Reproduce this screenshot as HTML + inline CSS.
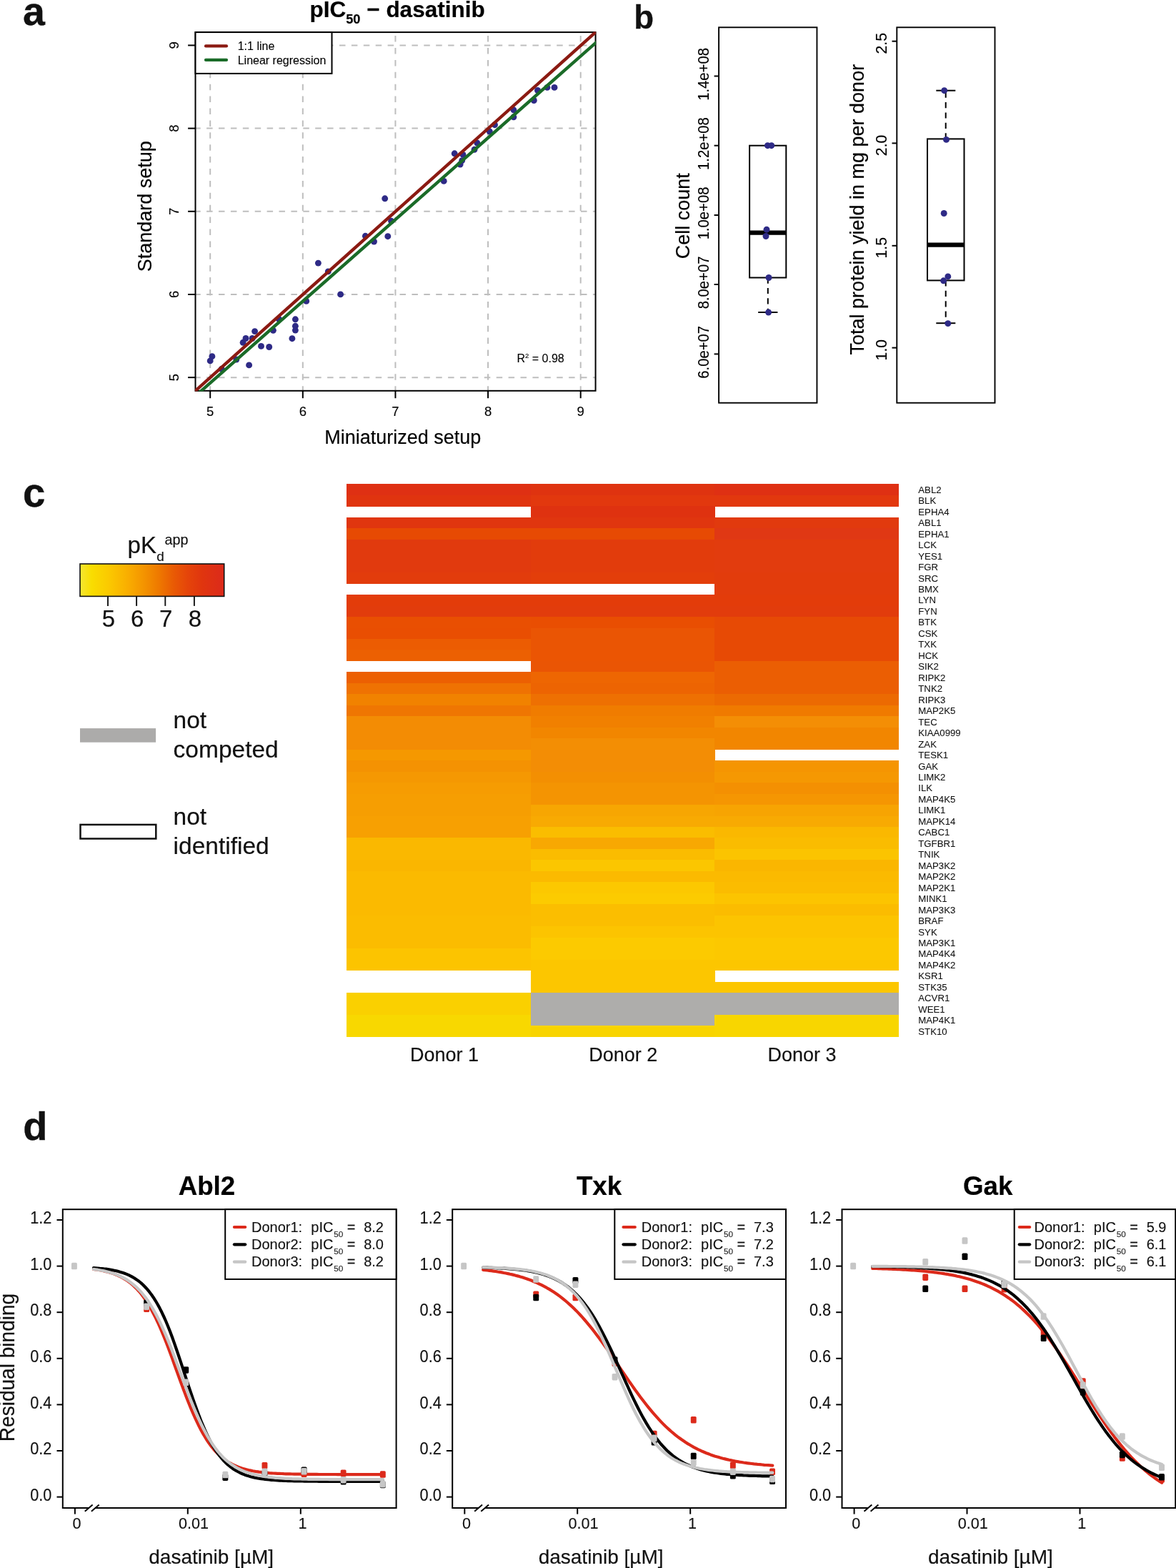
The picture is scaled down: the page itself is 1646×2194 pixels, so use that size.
<!DOCTYPE html>
<html lang="en"><head><meta charset="utf-8"><title>Figure</title>
<style>
html,body{margin:0;padding:0;background:#fff;}
body{width:1646px;height:2194px;overflow:hidden;}
svg{display:block;font-family:'Liberation Sans', sans-serif;}
</style></head><body>
<svg width="1646" height="2194" viewBox="0 0 1646 2194">
<rect width="1646" height="2194" fill="#fff"/>
<text x="32.00" y="35.00" font-size="55.5" text-anchor="start" font-weight="bold" fill="#111" stroke="#111" stroke-width="0.33">a</text>
<text x="887.30" y="39.80" font-size="45.6" text-anchor="start" font-weight="bold" fill="#111" stroke="#111" stroke-width="0.27">b</text>
<text x="31.90" y="709.00" font-size="56.5" text-anchor="start" font-weight="bold" fill="#111" stroke="#111" stroke-width="0.34">c</text>
<text x="32.20" y="1595.00" font-size="56" text-anchor="start" font-weight="bold" fill="#111" stroke="#111" stroke-width="0.34">d</text>
<g id="panel-a">
<line x1="294.20" y1="548.70" x2="294.20" y2="45.10" stroke="#BEBEBE" stroke-width="2" stroke-dasharray="8.5 8.4"/>
<line x1="272.20" y1="528.15" x2="833.55" y2="528.15" stroke="#BEBEBE" stroke-width="2" stroke-dasharray="8.5 8.4"/>
<line x1="423.82" y1="548.70" x2="423.82" y2="45.10" stroke="#BEBEBE" stroke-width="2" stroke-dasharray="8.5 8.4"/>
<line x1="272.20" y1="411.97" x2="833.55" y2="411.97" stroke="#BEBEBE" stroke-width="2" stroke-dasharray="8.5 8.4"/>
<line x1="553.44" y1="548.70" x2="553.44" y2="45.10" stroke="#BEBEBE" stroke-width="2" stroke-dasharray="8.5 8.4"/>
<line x1="272.20" y1="295.79" x2="833.55" y2="295.79" stroke="#BEBEBE" stroke-width="2" stroke-dasharray="8.5 8.4"/>
<line x1="683.06" y1="548.70" x2="683.06" y2="45.10" stroke="#BEBEBE" stroke-width="2" stroke-dasharray="8.5 8.4"/>
<line x1="272.20" y1="179.61" x2="833.55" y2="179.61" stroke="#BEBEBE" stroke-width="2" stroke-dasharray="8.5 8.4"/>
<line x1="812.68" y1="548.70" x2="812.68" y2="45.10" stroke="#BEBEBE" stroke-width="2" stroke-dasharray="8.5 8.4"/>
<line x1="272.20" y1="63.43" x2="833.55" y2="63.43" stroke="#BEBEBE" stroke-width="2" stroke-dasharray="8.5 8.4"/>
<circle cx="294.2" cy="504.9" r="4.45" fill="#2E2A86"/>
<circle cx="296.9" cy="498.7" r="4.45" fill="#2E2A86"/>
<circle cx="310.2" cy="516.3" r="4.45" fill="#2E2A86"/>
<circle cx="330.8" cy="503.0" r="4.45" fill="#2E2A86"/>
<circle cx="348.6" cy="510.9" r="4.45" fill="#2E2A86"/>
<circle cx="340.1" cy="479.3" r="4.45" fill="#2E2A86"/>
<circle cx="344.0" cy="473.5" r="4.45" fill="#2E2A86"/>
<circle cx="353.1" cy="473.5" r="4.45" fill="#2E2A86"/>
<circle cx="356.6" cy="463.6" r="4.45" fill="#2E2A86"/>
<circle cx="365.5" cy="484.4" r="4.45" fill="#2E2A86"/>
<circle cx="376.7" cy="485.5" r="4.45" fill="#2E2A86"/>
<circle cx="382.4" cy="462.3" r="4.45" fill="#2E2A86"/>
<circle cx="390.3" cy="446.4" r="4.45" fill="#2E2A86"/>
<circle cx="408.9" cy="473.7" r="4.45" fill="#2E2A86"/>
<circle cx="413.4" cy="462.1" r="4.45" fill="#2E2A86"/>
<circle cx="413.4" cy="456.3" r="4.45" fill="#2E2A86"/>
<circle cx="413.4" cy="446.8" r="4.45" fill="#2E2A86"/>
<circle cx="428.7" cy="421.4" r="4.45" fill="#2E2A86"/>
<circle cx="445.4" cy="368.1" r="4.45" fill="#2E2A86"/>
<circle cx="459.3" cy="379.9" r="4.45" fill="#2E2A86"/>
<circle cx="476.6" cy="411.9" r="4.45" fill="#2E2A86"/>
<circle cx="511.4" cy="330.3" r="4.45" fill="#2E2A86"/>
<circle cx="523.5" cy="338.0" r="4.45" fill="#2E2A86"/>
<circle cx="542.8" cy="330.7" r="4.45" fill="#2E2A86"/>
<circle cx="538.7" cy="277.8" r="4.45" fill="#2E2A86"/>
<circle cx="547.6" cy="309.3" r="4.45" fill="#2E2A86"/>
<circle cx="621.2" cy="253.4" r="4.45" fill="#2E2A86"/>
<circle cx="636.2" cy="214.8" r="4.45" fill="#2E2A86"/>
<circle cx="648.0" cy="216.4" r="4.45" fill="#2E2A86"/>
<circle cx="646.7" cy="224.6" r="4.45" fill="#2E2A86"/>
<circle cx="644.1" cy="230.0" r="4.45" fill="#2E2A86"/>
<circle cx="664.0" cy="209.3" r="4.45" fill="#2E2A86"/>
<circle cx="667.8" cy="200.0" r="4.45" fill="#2E2A86"/>
<circle cx="685.3" cy="184.0" r="4.45" fill="#2E2A86"/>
<circle cx="692.5" cy="174.7" r="4.45" fill="#2E2A86"/>
<circle cx="718.9" cy="153.8" r="4.45" fill="#2E2A86"/>
<circle cx="718.9" cy="163.8" r="4.45" fill="#2E2A86"/>
<circle cx="747.3" cy="140.5" r="4.45" fill="#2E2A86"/>
<circle cx="752.5" cy="126.5" r="4.45" fill="#2E2A86"/>
<circle cx="765.9" cy="122.4" r="4.45" fill="#2E2A86"/>
<circle cx="776.0" cy="122.4" r="4.45" fill="#2E2A86"/>
<rect x="273.50" y="45.10" width="560.05" height="501.70" fill="none" stroke="#000" stroke-width="2"/>
<clipPath id="clipA"><rect x="272.9" y="44.5" width="561.25" height="502.8999999999999"/></clipPath>
<g clip-path="url(#clipA)">
<line x1="263.50" y1="555.76" x2="843.55" y2="36.14" stroke="#8B1A12" stroke-width="4.4"/>
<line x1="271.80" y1="555.62" x2="843.50" y2="51.38" stroke="#1A6B28" stroke-width="4.4"/>
</g>
<line x1="294.20" y1="546.80" x2="294.20" y2="557.20" stroke="#000" stroke-width="2"/>
<text x="294.20" y="582.00" font-size="18.5" text-anchor="middle" font-weight="normal" fill="#000" stroke="#000" stroke-width="0.11">5</text>
<line x1="273.50" y1="528.15" x2="263.10" y2="528.15" stroke="#000" stroke-width="2"/>
<text x="250.20" y="528.15" font-size="18.5" text-anchor="middle" font-weight="normal" fill="#000" stroke="#000" stroke-width="0.11" transform="rotate(-90 250.20 528.15)">5</text>
<line x1="423.82" y1="546.80" x2="423.82" y2="557.20" stroke="#000" stroke-width="2"/>
<text x="423.82" y="582.00" font-size="18.5" text-anchor="middle" font-weight="normal" fill="#000" stroke="#000" stroke-width="0.11">6</text>
<line x1="273.50" y1="411.97" x2="263.10" y2="411.97" stroke="#000" stroke-width="2"/>
<text x="250.20" y="411.97" font-size="18.5" text-anchor="middle" font-weight="normal" fill="#000" stroke="#000" stroke-width="0.11" transform="rotate(-90 250.20 411.97)">6</text>
<line x1="553.44" y1="546.80" x2="553.44" y2="557.20" stroke="#000" stroke-width="2"/>
<text x="553.44" y="582.00" font-size="18.5" text-anchor="middle" font-weight="normal" fill="#000" stroke="#000" stroke-width="0.11">7</text>
<line x1="273.50" y1="295.79" x2="263.10" y2="295.79" stroke="#000" stroke-width="2"/>
<text x="250.20" y="295.79" font-size="18.5" text-anchor="middle" font-weight="normal" fill="#000" stroke="#000" stroke-width="0.11" transform="rotate(-90 250.20 295.79)">7</text>
<line x1="683.06" y1="546.80" x2="683.06" y2="557.20" stroke="#000" stroke-width="2"/>
<text x="683.06" y="582.00" font-size="18.5" text-anchor="middle" font-weight="normal" fill="#000" stroke="#000" stroke-width="0.11">8</text>
<line x1="273.50" y1="179.61" x2="263.10" y2="179.61" stroke="#000" stroke-width="2"/>
<text x="250.20" y="179.61" font-size="18.5" text-anchor="middle" font-weight="normal" fill="#000" stroke="#000" stroke-width="0.11" transform="rotate(-90 250.20 179.61)">8</text>
<line x1="812.68" y1="546.80" x2="812.68" y2="557.20" stroke="#000" stroke-width="2"/>
<text x="812.68" y="582.00" font-size="18.5" text-anchor="middle" font-weight="normal" fill="#000" stroke="#000" stroke-width="0.11">9</text>
<line x1="273.50" y1="63.43" x2="263.10" y2="63.43" stroke="#000" stroke-width="2"/>
<text x="250.20" y="63.43" font-size="18.5" text-anchor="middle" font-weight="normal" fill="#000" stroke="#000" stroke-width="0.11" transform="rotate(-90 250.20 63.43)">9</text>
<text x="563.80" y="620.70" font-size="27" text-anchor="middle" font-weight="normal" fill="#000" stroke="#000" stroke-width="0.16">Miniaturized setup</text>
<text x="0.00" y="0.00" font-size="27.5" text-anchor="middle" font-weight="normal" fill="#000" stroke="#000" stroke-width="0.17" transform="translate(211.60 288.70) rotate(-90) scale(0.982 1)">Standard setup</text>
<text x="433.5" y="23.5" font-size="31.5" font-weight="bold" fill="#000" stroke="#000" stroke-width="0.2">pIC<tspan font-size="18.2" dy="9.9">50</tspan><tspan dy="-9.9"> − dasatinib</tspan></text>
<rect x="273.50" y="45.10" width="191.00" height="57.80" fill="#fff" stroke="#000" stroke-width="2"/>
<line x1="288.00" y1="64.40" x2="317.00" y2="64.40" stroke="#8B1A12" stroke-width="4.2" stroke-linecap="round"/>
<line x1="288.00" y1="83.90" x2="317.00" y2="83.90" stroke="#1A6B28" stroke-width="4.2" stroke-linecap="round"/>
<text x="332.70" y="70.00" font-size="16" text-anchor="start" font-weight="normal" fill="#000" stroke="#000" stroke-width="0.10">1:1 line</text>
<text x="332.70" y="90.10" font-size="16" text-anchor="start" font-weight="normal" fill="#000" stroke="#000" stroke-width="0.10">Linear regression</text>
<text x="723.5" y="506.5" font-size="16" fill="#000" stroke="#000" stroke-width="0.1">R<tspan font-size="9.5" dy="-6">2</tspan><tspan dy="6"> = 0.98</tspan></text>
</g>
<g id="panel-b">
<rect x="1006.10" y="38.30" width="137.35" height="525.40" fill="none" stroke="#000" stroke-width="1.9"/>
<line x1="1006.10" y1="106.50" x2="999.60" y2="106.50" stroke="#000" stroke-width="2"/>
<text x="991.60" y="103.90" font-size="21.3" text-anchor="middle" font-weight="normal" fill="#000" stroke="#000" stroke-width="0.13" transform="rotate(-90 991.60 103.90)" textLength="73.8" lengthAdjust="spacingAndGlyphs">1.4e+08</text>
<line x1="1006.10" y1="203.70" x2="999.60" y2="203.70" stroke="#000" stroke-width="2"/>
<text x="991.60" y="201.10" font-size="21.3" text-anchor="middle" font-weight="normal" fill="#000" stroke="#000" stroke-width="0.13" transform="rotate(-90 991.60 201.10)" textLength="73.8" lengthAdjust="spacingAndGlyphs">1.2e+08</text>
<line x1="1006.10" y1="301.00" x2="999.60" y2="301.00" stroke="#000" stroke-width="2"/>
<text x="991.60" y="298.40" font-size="21.3" text-anchor="middle" font-weight="normal" fill="#000" stroke="#000" stroke-width="0.13" transform="rotate(-90 991.60 298.40)" textLength="73.8" lengthAdjust="spacingAndGlyphs">1.0e+08</text>
<line x1="1006.10" y1="398.00" x2="999.60" y2="398.00" stroke="#000" stroke-width="2"/>
<text x="991.60" y="395.40" font-size="21.3" text-anchor="middle" font-weight="normal" fill="#000" stroke="#000" stroke-width="0.13" transform="rotate(-90 991.60 395.40)" textLength="73.8" lengthAdjust="spacingAndGlyphs">8.0e+07</text>
<line x1="1006.10" y1="495.40" x2="999.60" y2="495.40" stroke="#000" stroke-width="2"/>
<text x="991.60" y="492.80" font-size="21.3" text-anchor="middle" font-weight="normal" fill="#000" stroke="#000" stroke-width="0.13" transform="rotate(-90 991.60 492.80)" textLength="73.8" lengthAdjust="spacingAndGlyphs">6.0e+07</text>
<text x="965.00" y="302.30" font-size="27" text-anchor="middle" font-weight="normal" fill="#000" stroke="#000" stroke-width="0.16" transform="rotate(-90 965.00 302.30)">Cell count</text>
<line x1="1074.80" y1="388.50" x2="1074.80" y2="437.00" stroke="#000" stroke-width="2" stroke-dasharray="8.2 6.2"/>
<line x1="1061.20" y1="437.00" x2="1088.40" y2="437.00" stroke="#000" stroke-width="2"/>
<rect x="1049.10" y="203.70" width="51.20" height="184.80" fill="#fff" stroke="#000" stroke-width="2"/>
<line x1="1049.10" y1="325.70" x2="1100.30" y2="325.70" stroke="#000" stroke-width="6.3"/>
<circle cx="1074.4" cy="203.7" r="4.45" fill="#2E2A86"/>
<circle cx="1079.8" cy="203.7" r="4.45" fill="#2E2A86"/>
<circle cx="1073.0" cy="321.2" r="4.45" fill="#2E2A86"/>
<circle cx="1072.0" cy="330.5" r="4.45" fill="#2E2A86"/>
<circle cx="1076.0" cy="388.5" r="4.45" fill="#2E2A86"/>
<circle cx="1075.6" cy="437.0" r="4.45" fill="#2E2A86"/>
<rect x="1255.30" y="38.30" width="137.20" height="525.40" fill="none" stroke="#000" stroke-width="1.9"/>
<line x1="1255.30" y1="57.70" x2="1248.50" y2="57.70" stroke="#000" stroke-width="2"/>
<text x="1240.80" y="60.70" font-size="21.3" text-anchor="middle" font-weight="normal" fill="#000" stroke="#000" stroke-width="0.13" transform="rotate(-90 1240.80 60.70)">2.5</text>
<line x1="1255.30" y1="200.40" x2="1248.50" y2="200.40" stroke="#000" stroke-width="2"/>
<text x="1240.80" y="203.40" font-size="21.3" text-anchor="middle" font-weight="normal" fill="#000" stroke="#000" stroke-width="0.13" transform="rotate(-90 1240.80 203.40)">2.0</text>
<line x1="1255.30" y1="343.80" x2="1248.50" y2="343.80" stroke="#000" stroke-width="2"/>
<text x="1240.80" y="346.80" font-size="21.3" text-anchor="middle" font-weight="normal" fill="#000" stroke="#000" stroke-width="0.13" transform="rotate(-90 1240.80 346.80)">1.5</text>
<line x1="1255.30" y1="486.60" x2="1248.50" y2="486.60" stroke="#000" stroke-width="2"/>
<text x="1240.80" y="489.60" font-size="21.3" text-anchor="middle" font-weight="normal" fill="#000" stroke="#000" stroke-width="0.13" transform="rotate(-90 1240.80 489.60)">1.0</text>
<text x="1208.60" y="293.20" font-size="27" text-anchor="middle" font-weight="normal" fill="#000" stroke="#000" stroke-width="0.16" transform="rotate(-90 1208.60 293.20)">Total protein yield in mg per donor</text>
<line x1="1323.70" y1="194.40" x2="1323.70" y2="126.70" stroke="#000" stroke-width="2" stroke-dasharray="8.2 6.2"/>
<line x1="1310.30" y1="126.70" x2="1337.30" y2="126.70" stroke="#000" stroke-width="2"/>
<line x1="1323.70" y1="392.40" x2="1323.70" y2="452.20" stroke="#000" stroke-width="2" stroke-dasharray="8.2 6.2"/>
<line x1="1310.30" y1="452.20" x2="1337.30" y2="452.20" stroke="#000" stroke-width="2"/>
<rect x="1298.00" y="194.40" width="51.50" height="198.00" fill="#fff" stroke="#000" stroke-width="2"/>
<line x1="1298.00" y1="342.60" x2="1349.50" y2="342.60" stroke="#000" stroke-width="6.3"/>
<circle cx="1321.7" cy="126.7" r="4.45" fill="#2E2A86"/>
<circle cx="1324.5" cy="195.4" r="4.45" fill="#2E2A86"/>
<circle cx="1321.2" cy="298.5" r="4.45" fill="#2E2A86"/>
<circle cx="1326.8" cy="386.9" r="4.45" fill="#2E2A86"/>
<circle cx="1320.6" cy="392.8" r="4.45" fill="#2E2A86"/>
<circle cx="1326.8" cy="452.6" r="4.45" fill="#2E2A86"/>
</g>
<g id="panel-c">
<defs><linearGradient id="cb" x1="0" x2="1" y1="0" y2="0">
<stop offset="0.0" stop-color="#F5E633"/>
<stop offset="0.08" stop-color="#F9DD00"/>
<stop offset="0.2" stop-color="#FBC900"/>
<stop offset="0.33" stop-color="#F9AE00"/>
<stop offset="0.45" stop-color="#F39200"/>
<stop offset="0.55" stop-color="#EE7800"/>
<stop offset="0.65" stop-color="#E95A04"/>
<stop offset="0.75" stop-color="#E5440A"/>
<stop offset="0.85" stop-color="#E0350F"/>
<stop offset="1.0" stop-color="#DC2A1B"/>
</linearGradient></defs>
<rect x="112.00" y="789.00" width="201.70" height="45.40" fill="url(#cb)" stroke="#111" stroke-width="1.6"/>
<line x1="151.00" y1="834.30" x2="151.00" y2="847.90" stroke="#111" stroke-width="1.9"/>
<text x="152.00" y="876.50" font-size="33" text-anchor="middle" font-weight="normal" fill="#111" stroke="#111" stroke-width="0.20">5</text>
<line x1="191.10" y1="834.30" x2="191.10" y2="847.90" stroke="#111" stroke-width="1.9"/>
<text x="192.10" y="876.50" font-size="33" text-anchor="middle" font-weight="normal" fill="#111" stroke="#111" stroke-width="0.20">6</text>
<line x1="231.30" y1="834.30" x2="231.30" y2="847.90" stroke="#111" stroke-width="1.9"/>
<text x="232.30" y="876.50" font-size="33" text-anchor="middle" font-weight="normal" fill="#111" stroke="#111" stroke-width="0.20">7</text>
<line x1="271.90" y1="834.30" x2="271.90" y2="847.90" stroke="#111" stroke-width="1.9"/>
<text x="272.90" y="876.50" font-size="33" text-anchor="middle" font-weight="normal" fill="#111" stroke="#111" stroke-width="0.20">8</text>
<text x="178.60" y="774.20" font-size="33" text-anchor="start" font-weight="normal" fill="#111" stroke="#111" stroke-width="0.20">pK</text>
<text x="219.20" y="784.70" font-size="19" text-anchor="start" font-weight="normal" fill="#111" stroke="#111" stroke-width="0.11">d</text>
<text x="230.40" y="762.40" font-size="19.8" text-anchor="start" font-weight="normal" fill="#111" stroke="#111" stroke-width="0.12">app</text>
<rect x="112.00" y="1019.10" width="106.10" height="19.60" fill="#ACABAA" stroke="none" stroke-width="0"/>
<text x="242.60" y="1018.80" font-size="33.5" text-anchor="start" font-weight="normal" fill="#111" stroke="#111" stroke-width="0.20">not</text>
<text x="242.60" y="1060.30" font-size="33.5" text-anchor="start" font-weight="normal" fill="#111" stroke="#111" stroke-width="0.20">competed</text>
<rect x="112.50" y="1153.90" width="105.80" height="19.60" fill="#fff" stroke="#111" stroke-width="2.5"/>
<text x="242.60" y="1153.90" font-size="33.5" text-anchor="start" font-weight="normal" fill="#111" stroke="#111" stroke-width="0.20">not</text>
<text x="242.60" y="1195.00" font-size="33.5" text-anchor="start" font-weight="normal" fill="#111" stroke="#111" stroke-width="0.20">identified</text>
<g shape-rendering="crispEdges">
<rect x="484.90" y="677.45" width="258.10" height="15.77" fill="#DF3013" stroke="none" stroke-width="0"/>
<rect x="742.70" y="677.45" width="257.90" height="15.77" fill="#DF3310" stroke="none" stroke-width="0"/>
<rect x="1000.30" y="677.45" width="258.10" height="15.77" fill="#DF3013" stroke="none" stroke-width="0"/>
<rect x="484.90" y="692.92" width="258.10" height="15.77" fill="#E0340F" stroke="none" stroke-width="0"/>
<rect x="742.70" y="692.92" width="257.90" height="15.77" fill="#E2380E" stroke="none" stroke-width="0"/>
<rect x="1000.30" y="692.92" width="258.10" height="15.77" fill="#E2380E" stroke="none" stroke-width="0"/>
<rect x="742.70" y="708.39" width="257.90" height="15.77" fill="#DF3210" stroke="none" stroke-width="0"/>
<rect x="484.90" y="723.86" width="258.10" height="15.77" fill="#E0360F" stroke="none" stroke-width="0"/>
<rect x="742.70" y="723.86" width="257.90" height="15.77" fill="#E0360F" stroke="none" stroke-width="0"/>
<rect x="1000.30" y="723.86" width="258.10" height="15.77" fill="#E13A0E" stroke="none" stroke-width="0"/>
<rect x="484.90" y="739.33" width="258.10" height="15.77" fill="#E74A03" stroke="none" stroke-width="0"/>
<rect x="742.70" y="739.33" width="257.90" height="15.77" fill="#E74A03" stroke="none" stroke-width="0"/>
<rect x="1000.30" y="739.33" width="258.10" height="15.77" fill="#E03814" stroke="none" stroke-width="0"/>
<rect x="484.90" y="754.80" width="258.10" height="15.77" fill="#E13A0E" stroke="none" stroke-width="0"/>
<rect x="742.70" y="754.80" width="257.90" height="15.77" fill="#E23C0C" stroke="none" stroke-width="0"/>
<rect x="1000.30" y="754.80" width="258.10" height="15.77" fill="#E23C0E" stroke="none" stroke-width="0"/>
<rect x="484.90" y="770.26" width="258.10" height="15.77" fill="#E13A0E" stroke="none" stroke-width="0"/>
<rect x="742.70" y="770.26" width="257.90" height="15.77" fill="#E23C0C" stroke="none" stroke-width="0"/>
<rect x="1000.30" y="770.26" width="258.10" height="15.77" fill="#E23C0E" stroke="none" stroke-width="0"/>
<rect x="484.90" y="785.73" width="258.10" height="15.77" fill="#E13A0E" stroke="none" stroke-width="0"/>
<rect x="742.70" y="785.73" width="257.90" height="15.77" fill="#E23C0C" stroke="none" stroke-width="0"/>
<rect x="1000.30" y="785.73" width="258.10" height="15.77" fill="#E23C0E" stroke="none" stroke-width="0"/>
<rect x="484.90" y="801.20" width="258.10" height="15.77" fill="#E23C0C" stroke="none" stroke-width="0"/>
<rect x="742.70" y="801.20" width="257.90" height="15.77" fill="#E33E0A" stroke="none" stroke-width="0"/>
<rect x="1000.30" y="801.20" width="258.10" height="15.77" fill="#E23C0C" stroke="none" stroke-width="0"/>
<rect x="1000.30" y="816.67" width="258.10" height="15.77" fill="#E23C0C" stroke="none" stroke-width="0"/>
<rect x="484.90" y="832.14" width="258.10" height="15.77" fill="#E33C0A" stroke="none" stroke-width="0"/>
<rect x="742.70" y="832.14" width="257.90" height="15.77" fill="#E33C0A" stroke="none" stroke-width="0"/>
<rect x="1000.30" y="832.14" width="258.10" height="15.77" fill="#E33C0A" stroke="none" stroke-width="0"/>
<rect x="484.90" y="847.61" width="258.10" height="15.77" fill="#E23C0C" stroke="none" stroke-width="0"/>
<rect x="742.70" y="847.61" width="257.90" height="15.77" fill="#E23C0C" stroke="none" stroke-width="0"/>
<rect x="1000.30" y="847.61" width="258.10" height="15.77" fill="#E23C0C" stroke="none" stroke-width="0"/>
<rect x="484.90" y="863.08" width="258.10" height="15.77" fill="#E94F02" stroke="none" stroke-width="0"/>
<rect x="742.70" y="863.08" width="257.90" height="15.77" fill="#E94E02" stroke="none" stroke-width="0"/>
<rect x="1000.30" y="863.08" width="258.10" height="15.77" fill="#E74A05" stroke="none" stroke-width="0"/>
<rect x="484.90" y="878.55" width="258.10" height="15.77" fill="#E94E02" stroke="none" stroke-width="0"/>
<rect x="742.70" y="878.55" width="257.90" height="15.77" fill="#EA5504" stroke="none" stroke-width="0"/>
<rect x="1000.30" y="878.55" width="258.10" height="15.77" fill="#E74A05" stroke="none" stroke-width="0"/>
<rect x="484.90" y="894.02" width="258.10" height="15.77" fill="#EC5C02" stroke="none" stroke-width="0"/>
<rect x="742.70" y="894.02" width="257.90" height="15.77" fill="#EA5504" stroke="none" stroke-width="0"/>
<rect x="1000.30" y="894.02" width="258.10" height="15.77" fill="#E74A05" stroke="none" stroke-width="0"/>
<rect x="484.90" y="909.49" width="258.10" height="15.77" fill="#EC6002" stroke="none" stroke-width="0"/>
<rect x="742.70" y="909.49" width="257.90" height="15.77" fill="#EB5503" stroke="none" stroke-width="0"/>
<rect x="1000.30" y="909.49" width="258.10" height="15.77" fill="#E74A05" stroke="none" stroke-width="0"/>
<rect x="742.70" y="924.95" width="257.90" height="15.77" fill="#EA5504" stroke="none" stroke-width="0"/>
<rect x="1000.30" y="924.95" width="258.10" height="15.77" fill="#EB5E03" stroke="none" stroke-width="0"/>
<rect x="484.90" y="940.42" width="258.10" height="15.77" fill="#EC6002" stroke="none" stroke-width="0"/>
<rect x="742.70" y="940.42" width="257.90" height="15.77" fill="#EE6602" stroke="none" stroke-width="0"/>
<rect x="1000.30" y="940.42" width="258.10" height="15.77" fill="#EB5E03" stroke="none" stroke-width="0"/>
<rect x="484.90" y="955.89" width="258.10" height="15.77" fill="#EF7202" stroke="none" stroke-width="0"/>
<rect x="742.70" y="955.89" width="257.90" height="15.77" fill="#ED6402" stroke="none" stroke-width="0"/>
<rect x="1000.30" y="955.89" width="258.10" height="15.77" fill="#EB5E03" stroke="none" stroke-width="0"/>
<rect x="484.90" y="971.36" width="258.10" height="15.77" fill="#F18200" stroke="none" stroke-width="0"/>
<rect x="742.70" y="971.36" width="257.90" height="15.77" fill="#EE7002" stroke="none" stroke-width="0"/>
<rect x="1000.30" y="971.36" width="258.10" height="15.77" fill="#EC6A02" stroke="none" stroke-width="0"/>
<rect x="484.90" y="986.83" width="258.10" height="15.77" fill="#EF7602" stroke="none" stroke-width="0"/>
<rect x="742.70" y="986.83" width="257.90" height="15.77" fill="#F07C00" stroke="none" stroke-width="0"/>
<rect x="1000.30" y="986.83" width="258.10" height="15.77" fill="#F07A00" stroke="none" stroke-width="0"/>
<rect x="484.90" y="1002.30" width="258.10" height="15.77" fill="#F38C04" stroke="none" stroke-width="0"/>
<rect x="742.70" y="1002.30" width="257.90" height="15.77" fill="#F18000" stroke="none" stroke-width="0"/>
<rect x="1000.30" y="1002.30" width="258.10" height="15.77" fill="#F48E05" stroke="none" stroke-width="0"/>
<rect x="484.90" y="1017.77" width="258.10" height="15.77" fill="#F38C04" stroke="none" stroke-width="0"/>
<rect x="742.70" y="1017.77" width="257.90" height="15.77" fill="#F28600" stroke="none" stroke-width="0"/>
<rect x="1000.30" y="1017.77" width="258.10" height="15.77" fill="#F28600" stroke="none" stroke-width="0"/>
<rect x="484.90" y="1033.24" width="258.10" height="15.77" fill="#F38C04" stroke="none" stroke-width="0"/>
<rect x="742.70" y="1033.24" width="257.90" height="15.77" fill="#F38E04" stroke="none" stroke-width="0"/>
<rect x="1000.30" y="1033.24" width="258.10" height="15.77" fill="#F28600" stroke="none" stroke-width="0"/>
<rect x="484.90" y="1048.71" width="258.10" height="15.77" fill="#F59800" stroke="none" stroke-width="0"/>
<rect x="742.70" y="1048.71" width="257.90" height="15.77" fill="#F38D05" stroke="none" stroke-width="0"/>
<rect x="484.90" y="1064.17" width="258.10" height="15.77" fill="#F49202" stroke="none" stroke-width="0"/>
<rect x="742.70" y="1064.17" width="257.90" height="15.77" fill="#F38D05" stroke="none" stroke-width="0"/>
<rect x="1000.30" y="1064.17" width="258.10" height="15.77" fill="#F59502" stroke="none" stroke-width="0"/>
<rect x="484.90" y="1079.64" width="258.10" height="15.77" fill="#F59802" stroke="none" stroke-width="0"/>
<rect x="742.70" y="1079.64" width="257.90" height="15.77" fill="#F38F02" stroke="none" stroke-width="0"/>
<rect x="1000.30" y="1079.64" width="258.10" height="15.77" fill="#F59802" stroke="none" stroke-width="0"/>
<rect x="484.90" y="1095.11" width="258.10" height="15.77" fill="#F69C02" stroke="none" stroke-width="0"/>
<rect x="742.70" y="1095.11" width="257.90" height="15.77" fill="#F49402" stroke="none" stroke-width="0"/>
<rect x="1000.30" y="1095.11" width="258.10" height="15.77" fill="#F49002" stroke="none" stroke-width="0"/>
<rect x="484.90" y="1110.58" width="258.10" height="15.77" fill="#F69E02" stroke="none" stroke-width="0"/>
<rect x="742.70" y="1110.58" width="257.90" height="15.77" fill="#F49402" stroke="none" stroke-width="0"/>
<rect x="1000.30" y="1110.58" width="258.10" height="15.77" fill="#F59602" stroke="none" stroke-width="0"/>
<rect x="484.90" y="1126.05" width="258.10" height="15.77" fill="#F69E02" stroke="none" stroke-width="0"/>
<rect x="742.70" y="1126.05" width="257.90" height="15.77" fill="#F7A602" stroke="none" stroke-width="0"/>
<rect x="1000.30" y="1126.05" width="258.10" height="15.77" fill="#F7A402" stroke="none" stroke-width="0"/>
<rect x="484.90" y="1141.52" width="258.10" height="15.77" fill="#F7A002" stroke="none" stroke-width="0"/>
<rect x="742.70" y="1141.52" width="257.90" height="15.77" fill="#F8AA02" stroke="none" stroke-width="0"/>
<rect x="1000.30" y="1141.52" width="258.10" height="15.77" fill="#F8AA02" stroke="none" stroke-width="0"/>
<rect x="484.90" y="1156.99" width="258.10" height="15.77" fill="#F7A002" stroke="none" stroke-width="0"/>
<rect x="742.70" y="1156.99" width="257.90" height="15.77" fill="#FABD00" stroke="none" stroke-width="0"/>
<rect x="1000.30" y="1156.99" width="258.10" height="15.77" fill="#FAB800" stroke="none" stroke-width="0"/>
<rect x="484.90" y="1172.46" width="258.10" height="15.77" fill="#FAB800" stroke="none" stroke-width="0"/>
<rect x="742.70" y="1172.46" width="257.90" height="15.77" fill="#F8A802" stroke="none" stroke-width="0"/>
<rect x="1000.30" y="1172.46" width="258.10" height="15.77" fill="#FABC00" stroke="none" stroke-width="0"/>
<rect x="484.90" y="1187.93" width="258.10" height="15.77" fill="#FAB800" stroke="none" stroke-width="0"/>
<rect x="742.70" y="1187.93" width="257.90" height="15.77" fill="#FABC00" stroke="none" stroke-width="0"/>
<rect x="1000.30" y="1187.93" width="258.10" height="15.77" fill="#FBC400" stroke="none" stroke-width="0"/>
<rect x="484.90" y="1203.40" width="258.10" height="15.77" fill="#FAB600" stroke="none" stroke-width="0"/>
<rect x="742.70" y="1203.40" width="257.90" height="15.77" fill="#FBC600" stroke="none" stroke-width="0"/>
<rect x="1000.30" y="1203.40" width="258.10" height="15.77" fill="#FAB600" stroke="none" stroke-width="0"/>
<rect x="484.90" y="1218.87" width="258.10" height="15.77" fill="#FBBA00" stroke="none" stroke-width="0"/>
<rect x="742.70" y="1218.87" width="257.90" height="15.77" fill="#FBBA00" stroke="none" stroke-width="0"/>
<rect x="1000.30" y="1218.87" width="258.10" height="15.77" fill="#FBBA00" stroke="none" stroke-width="0"/>
<rect x="484.90" y="1234.33" width="258.10" height="15.77" fill="#FBBA00" stroke="none" stroke-width="0"/>
<rect x="742.70" y="1234.33" width="257.90" height="15.77" fill="#FCC800" stroke="none" stroke-width="0"/>
<rect x="1000.30" y="1234.33" width="258.10" height="15.77" fill="#FBBC00" stroke="none" stroke-width="0"/>
<rect x="484.90" y="1249.80" width="258.10" height="15.77" fill="#FBBA00" stroke="none" stroke-width="0"/>
<rect x="742.70" y="1249.80" width="257.90" height="15.77" fill="#FCCB00" stroke="none" stroke-width="0"/>
<rect x="1000.30" y="1249.80" width="258.10" height="15.77" fill="#FCC400" stroke="none" stroke-width="0"/>
<rect x="484.90" y="1265.27" width="258.10" height="15.77" fill="#FBBA00" stroke="none" stroke-width="0"/>
<rect x="742.70" y="1265.27" width="257.90" height="15.77" fill="#FBBE00" stroke="none" stroke-width="0"/>
<rect x="1000.30" y="1265.27" width="258.10" height="15.77" fill="#FBBC00" stroke="none" stroke-width="0"/>
<rect x="484.90" y="1280.74" width="258.10" height="15.77" fill="#FBBC00" stroke="none" stroke-width="0"/>
<rect x="742.70" y="1280.74" width="257.90" height="15.77" fill="#FBBE00" stroke="none" stroke-width="0"/>
<rect x="1000.30" y="1280.74" width="258.10" height="15.77" fill="#FCC400" stroke="none" stroke-width="0"/>
<rect x="484.90" y="1296.21" width="258.10" height="15.77" fill="#FBBC00" stroke="none" stroke-width="0"/>
<rect x="742.70" y="1296.21" width="257.90" height="15.77" fill="#FCC400" stroke="none" stroke-width="0"/>
<rect x="1000.30" y="1296.21" width="258.10" height="15.77" fill="#FCC400" stroke="none" stroke-width="0"/>
<rect x="484.90" y="1311.68" width="258.10" height="15.77" fill="#FBBC00" stroke="none" stroke-width="0"/>
<rect x="742.70" y="1311.68" width="257.90" height="15.77" fill="#FCCA00" stroke="none" stroke-width="0"/>
<rect x="1000.30" y="1311.68" width="258.10" height="15.77" fill="#FCC800" stroke="none" stroke-width="0"/>
<rect x="484.90" y="1327.15" width="258.10" height="15.77" fill="#FCC400" stroke="none" stroke-width="0"/>
<rect x="742.70" y="1327.15" width="257.90" height="15.77" fill="#FCCA00" stroke="none" stroke-width="0"/>
<rect x="1000.30" y="1327.15" width="258.10" height="15.77" fill="#FCC800" stroke="none" stroke-width="0"/>
<rect x="484.90" y="1342.62" width="258.10" height="15.77" fill="#FCC400" stroke="none" stroke-width="0"/>
<rect x="742.70" y="1342.62" width="257.90" height="15.77" fill="#FCC600" stroke="none" stroke-width="0"/>
<rect x="1000.30" y="1342.62" width="258.10" height="15.77" fill="#FCC600" stroke="none" stroke-width="0"/>
<rect x="742.70" y="1358.09" width="257.90" height="15.77" fill="#FCC600" stroke="none" stroke-width="0"/>
<rect x="742.70" y="1373.56" width="257.90" height="15.77" fill="#FCC600" stroke="none" stroke-width="0"/>
<rect x="1000.30" y="1373.56" width="258.10" height="15.77" fill="#FCC600" stroke="none" stroke-width="0"/>
<rect x="484.90" y="1389.02" width="258.10" height="15.77" fill="#FAD000" stroke="none" stroke-width="0"/>
<rect x="742.70" y="1389.02" width="257.90" height="15.77" fill="#AEADAB" stroke="none" stroke-width="0"/>
<rect x="1000.30" y="1389.02" width="258.10" height="15.77" fill="#AEADAB" stroke="none" stroke-width="0"/>
<rect x="484.90" y="1404.49" width="258.10" height="15.77" fill="#FAD000" stroke="none" stroke-width="0"/>
<rect x="742.70" y="1404.49" width="257.90" height="15.77" fill="#AEADAB" stroke="none" stroke-width="0"/>
<rect x="1000.30" y="1404.49" width="258.10" height="15.77" fill="#AEADAB" stroke="none" stroke-width="0"/>
<rect x="484.90" y="1419.96" width="258.10" height="15.77" fill="#F8D800" stroke="none" stroke-width="0"/>
<rect x="742.70" y="1419.96" width="257.90" height="15.77" fill="#AEADAB" stroke="none" stroke-width="0"/>
<rect x="1000.30" y="1419.96" width="258.10" height="15.77" fill="#F8D600" stroke="none" stroke-width="0"/>
<rect x="484.90" y="1435.43" width="258.10" height="15.77" fill="#F8D800" stroke="none" stroke-width="0"/>
<rect x="742.70" y="1435.43" width="257.90" height="15.77" fill="#F8D400" stroke="none" stroke-width="0"/>
<rect x="1000.30" y="1435.43" width="258.10" height="15.77" fill="#F8D600" stroke="none" stroke-width="0"/>
</g>
<text x="1285.30" y="689.78" font-size="13.2" text-anchor="start" font-weight="normal" fill="#111" stroke="#111" stroke-width="0.08">ABL2</text>
<text x="1285.30" y="705.25" font-size="13.2" text-anchor="start" font-weight="normal" fill="#111" stroke="#111" stroke-width="0.08">BLK</text>
<text x="1285.30" y="720.72" font-size="13.2" text-anchor="start" font-weight="normal" fill="#111" stroke="#111" stroke-width="0.08">EPHA4</text>
<text x="1285.30" y="736.19" font-size="13.2" text-anchor="start" font-weight="normal" fill="#111" stroke="#111" stroke-width="0.08">ABL1</text>
<text x="1285.30" y="751.66" font-size="13.2" text-anchor="start" font-weight="normal" fill="#111" stroke="#111" stroke-width="0.08">EPHA1</text>
<text x="1285.30" y="767.13" font-size="13.2" text-anchor="start" font-weight="normal" fill="#111" stroke="#111" stroke-width="0.08">LCK</text>
<text x="1285.30" y="782.60" font-size="13.2" text-anchor="start" font-weight="normal" fill="#111" stroke="#111" stroke-width="0.08">YES1</text>
<text x="1285.30" y="798.07" font-size="13.2" text-anchor="start" font-weight="normal" fill="#111" stroke="#111" stroke-width="0.08">FGR</text>
<text x="1285.30" y="813.54" font-size="13.2" text-anchor="start" font-weight="normal" fill="#111" stroke="#111" stroke-width="0.08">SRC</text>
<text x="1285.30" y="829.01" font-size="13.2" text-anchor="start" font-weight="normal" fill="#111" stroke="#111" stroke-width="0.08">BMX</text>
<text x="1285.30" y="844.47" font-size="13.2" text-anchor="start" font-weight="normal" fill="#111" stroke="#111" stroke-width="0.08">LYN</text>
<text x="1285.30" y="859.94" font-size="13.2" text-anchor="start" font-weight="normal" fill="#111" stroke="#111" stroke-width="0.08">FYN</text>
<text x="1285.30" y="875.41" font-size="13.2" text-anchor="start" font-weight="normal" fill="#111" stroke="#111" stroke-width="0.08">BTK</text>
<text x="1285.30" y="890.88" font-size="13.2" text-anchor="start" font-weight="normal" fill="#111" stroke="#111" stroke-width="0.08">CSK</text>
<text x="1285.30" y="906.35" font-size="13.2" text-anchor="start" font-weight="normal" fill="#111" stroke="#111" stroke-width="0.08">TXK</text>
<text x="1285.30" y="921.82" font-size="13.2" text-anchor="start" font-weight="normal" fill="#111" stroke="#111" stroke-width="0.08">HCK</text>
<text x="1285.30" y="937.29" font-size="13.2" text-anchor="start" font-weight="normal" fill="#111" stroke="#111" stroke-width="0.08">SIK2</text>
<text x="1285.30" y="952.76" font-size="13.2" text-anchor="start" font-weight="normal" fill="#111" stroke="#111" stroke-width="0.08">RIPK2</text>
<text x="1285.30" y="968.23" font-size="13.2" text-anchor="start" font-weight="normal" fill="#111" stroke="#111" stroke-width="0.08">TNK2</text>
<text x="1285.30" y="983.70" font-size="13.2" text-anchor="start" font-weight="normal" fill="#111" stroke="#111" stroke-width="0.08">RIPK3</text>
<text x="1285.30" y="999.16" font-size="13.2" text-anchor="start" font-weight="normal" fill="#111" stroke="#111" stroke-width="0.08">MAP2K5</text>
<text x="1285.30" y="1014.63" font-size="13.2" text-anchor="start" font-weight="normal" fill="#111" stroke="#111" stroke-width="0.08">TEC</text>
<text x="1285.30" y="1030.10" font-size="13.2" text-anchor="start" font-weight="normal" fill="#111" stroke="#111" stroke-width="0.08">KIAA0999</text>
<text x="1285.30" y="1045.57" font-size="13.2" text-anchor="start" font-weight="normal" fill="#111" stroke="#111" stroke-width="0.08">ZAK</text>
<text x="1285.30" y="1061.04" font-size="13.2" text-anchor="start" font-weight="normal" fill="#111" stroke="#111" stroke-width="0.08">TESK1</text>
<text x="1285.30" y="1076.51" font-size="13.2" text-anchor="start" font-weight="normal" fill="#111" stroke="#111" stroke-width="0.08">GAK</text>
<text x="1285.30" y="1091.98" font-size="13.2" text-anchor="start" font-weight="normal" fill="#111" stroke="#111" stroke-width="0.08">LIMK2</text>
<text x="1285.30" y="1107.45" font-size="13.2" text-anchor="start" font-weight="normal" fill="#111" stroke="#111" stroke-width="0.08">ILK</text>
<text x="1285.30" y="1122.92" font-size="13.2" text-anchor="start" font-weight="normal" fill="#111" stroke="#111" stroke-width="0.08">MAP4K5</text>
<text x="1285.30" y="1138.39" font-size="13.2" text-anchor="start" font-weight="normal" fill="#111" stroke="#111" stroke-width="0.08">LIMK1</text>
<text x="1285.30" y="1153.85" font-size="13.2" text-anchor="start" font-weight="normal" fill="#111" stroke="#111" stroke-width="0.08">MAPK14</text>
<text x="1285.30" y="1169.32" font-size="13.2" text-anchor="start" font-weight="normal" fill="#111" stroke="#111" stroke-width="0.08">CABC1</text>
<text x="1285.30" y="1184.79" font-size="13.2" text-anchor="start" font-weight="normal" fill="#111" stroke="#111" stroke-width="0.08">TGFBR1</text>
<text x="1285.30" y="1200.26" font-size="13.2" text-anchor="start" font-weight="normal" fill="#111" stroke="#111" stroke-width="0.08">TNIK</text>
<text x="1285.30" y="1215.73" font-size="13.2" text-anchor="start" font-weight="normal" fill="#111" stroke="#111" stroke-width="0.08">MAP3K2</text>
<text x="1285.30" y="1231.20" font-size="13.2" text-anchor="start" font-weight="normal" fill="#111" stroke="#111" stroke-width="0.08">MAP2K2</text>
<text x="1285.30" y="1246.67" font-size="13.2" text-anchor="start" font-weight="normal" fill="#111" stroke="#111" stroke-width="0.08">MAP2K1</text>
<text x="1285.30" y="1262.14" font-size="13.2" text-anchor="start" font-weight="normal" fill="#111" stroke="#111" stroke-width="0.08">MINK1</text>
<text x="1285.30" y="1277.61" font-size="13.2" text-anchor="start" font-weight="normal" fill="#111" stroke="#111" stroke-width="0.08">MAP3K3</text>
<text x="1285.30" y="1293.08" font-size="13.2" text-anchor="start" font-weight="normal" fill="#111" stroke="#111" stroke-width="0.08">BRAF</text>
<text x="1285.30" y="1308.54" font-size="13.2" text-anchor="start" font-weight="normal" fill="#111" stroke="#111" stroke-width="0.08">SYK</text>
<text x="1285.30" y="1324.01" font-size="13.2" text-anchor="start" font-weight="normal" fill="#111" stroke="#111" stroke-width="0.08">MAP3K1</text>
<text x="1285.30" y="1339.48" font-size="13.2" text-anchor="start" font-weight="normal" fill="#111" stroke="#111" stroke-width="0.08">MAP4K4</text>
<text x="1285.30" y="1354.95" font-size="13.2" text-anchor="start" font-weight="normal" fill="#111" stroke="#111" stroke-width="0.08">MAP4K2</text>
<text x="1285.30" y="1370.42" font-size="13.2" text-anchor="start" font-weight="normal" fill="#111" stroke="#111" stroke-width="0.08">KSR1</text>
<text x="1285.30" y="1385.89" font-size="13.2" text-anchor="start" font-weight="normal" fill="#111" stroke="#111" stroke-width="0.08">STK35</text>
<text x="1285.30" y="1401.36" font-size="13.2" text-anchor="start" font-weight="normal" fill="#111" stroke="#111" stroke-width="0.08">ACVR1</text>
<text x="1285.30" y="1416.83" font-size="13.2" text-anchor="start" font-weight="normal" fill="#111" stroke="#111" stroke-width="0.08">WEE1</text>
<text x="1285.30" y="1432.30" font-size="13.2" text-anchor="start" font-weight="normal" fill="#111" stroke="#111" stroke-width="0.08">MAP4K1</text>
<text x="1285.30" y="1447.77" font-size="13.2" text-anchor="start" font-weight="normal" fill="#111" stroke="#111" stroke-width="0.08">STK10</text>
<text x="573.90" y="1484.70" font-size="27" text-anchor="start" font-weight="normal" fill="#111" stroke="#111" stroke-width="0.16">Donor 1</text>
<text x="824.20" y="1484.70" font-size="27" text-anchor="start" font-weight="normal" fill="#111" stroke="#111" stroke-width="0.16">Donor 2</text>
<text x="1074.50" y="1484.70" font-size="27" text-anchor="start" font-weight="normal" fill="#111" stroke="#111" stroke-width="0.16">Donor 3</text>
</g>
<g id="panel-d">
<rect x="201.2" y="1826.6" width="7.9" height="9.5" rx="1.6" ry="1.6" fill="#DC2A1B"/>
<rect x="256.3" y="1931.6" width="7.9" height="9.5" rx="1.6" ry="1.6" fill="#DC2A1B"/>
<rect x="366.5" y="2045.9" width="7.9" height="9.5" rx="1.6" ry="1.6" fill="#DC2A1B"/>
<rect x="421.6" y="2057.5" width="7.9" height="9.5" rx="1.6" ry="1.6" fill="#DC2A1B"/>
<rect x="476.7" y="2056.5" width="7.9" height="9.5" rx="1.6" ry="1.6" fill="#DC2A1B"/>
<rect x="531.9" y="2058.3" width="7.9" height="9.5" rx="1.6" ry="1.6" fill="#DC2A1B"/>
<polyline points="131.0,1776.0 133.9,1776.3 136.8,1776.8 139.7,1777.3 142.6,1777.8 145.5,1778.4 148.4,1779.1 151.3,1779.8 154.1,1780.7 157.0,1781.6 159.9,1782.6 162.8,1783.7 165.7,1785.0 168.6,1786.4 171.5,1787.9 174.4,1789.6 177.3,1791.4 180.2,1793.5 183.1,1795.7 186.0,1798.2 188.9,1800.9 191.8,1803.8 194.7,1807.0 197.6,1810.5 200.4,1814.3 203.3,1818.4 206.2,1822.9 209.1,1827.6 212.0,1832.7 214.9,1838.2 217.8,1843.9 220.7,1850.0 223.6,1856.5 226.5,1863.2 229.4,1870.2 232.3,1877.5 235.2,1885.0 238.1,1892.7 241.0,1900.6 243.8,1908.5 246.7,1916.5 249.6,1924.5 252.5,1932.5 255.4,1940.4 258.3,1948.1 261.2,1955.7 264.1,1963.0 267.0,1970.2 269.9,1977.0 272.8,1983.5 275.7,1989.7 278.6,1995.6 281.5,2001.2 284.4,2006.4 287.3,2011.2 290.1,2015.8 293.0,2020.0 295.9,2023.9 298.8,2027.5 301.7,2030.8 304.6,2033.8 307.5,2036.6 310.4,2039.1 313.3,2041.5 316.2,2043.6 319.1,2045.5 322.0,2047.2 324.9,2048.8 327.8,2050.2 330.7,2051.5 333.6,2052.7 336.4,2053.7 339.3,2054.7 342.2,2055.5 345.1,2056.3 348.0,2057.0 350.9,2057.6 353.8,2058.2 356.7,2058.7 359.6,2059.2 362.5,2059.6 365.4,2059.9 368.3,2060.3 371.2,2060.6 374.1,2060.8 377.0,2061.1 379.8,2061.3 382.7,2061.5 385.6,2061.6 388.5,2061.8 391.4,2061.9 394.3,2062.0 397.2,2062.2 400.1,2062.3 403.0,2062.3 405.9,2062.4 408.8,2062.5 411.7,2062.6 414.6,2062.6 417.5,2062.7 420.4,2062.7 423.3,2062.8 426.1,2062.8 429.0,2062.8 431.9,2062.9 434.8,2062.9 437.7,2062.9 440.6,2062.9 443.5,2062.9 446.4,2063.0 449.3,2063.0 452.2,2063.0 455.1,2063.0 458.0,2063.0 460.9,2063.0 463.8,2063.0 466.7,2063.0 469.5,2063.0 472.4,2063.1 475.3,2063.1 478.2,2063.1 481.1,2063.1 484.0,2063.1 486.9,2063.1 489.8,2063.1 492.7,2063.1 495.6,2063.1 498.5,2063.1 501.4,2063.1 504.3,2063.1 507.2,2063.1 510.1,2063.1 513.0,2063.1 515.8,2063.1 518.7,2063.1 521.6,2063.1 524.5,2063.1 527.4,2063.1 530.3,2063.1 533.2,2063.1 536.1,2063.1" fill="none" stroke="#DC2A1B" stroke-width="4.2" stroke-linecap="round" stroke-linejoin="round"/>
<rect x="201.2" y="1818.5" width="7.9" height="9.5" rx="1.6" ry="1.6" fill="#000"/>
<rect x="256.3" y="1912.2" width="7.9" height="9.5" rx="1.6" ry="1.6" fill="#000"/>
<rect x="311.4" y="2062.4" width="7.9" height="9.5" rx="1.6" ry="1.6" fill="#000"/>
<rect x="366.5" y="2057.5" width="7.9" height="9.5" rx="1.6" ry="1.6" fill="#000"/>
<rect x="421.6" y="2052.5" width="7.9" height="9.5" rx="1.6" ry="1.6" fill="#000"/>
<rect x="476.7" y="2068.0" width="7.9" height="9.5" rx="1.6" ry="1.6" fill="#000"/>
<rect x="531.9" y="2072.7" width="7.9" height="9.5" rx="1.6" ry="1.6" fill="#000"/>
<polyline points="131.0,1774.1 133.9,1774.3 136.8,1774.5 139.7,1774.8 142.6,1775.0 145.5,1775.4 148.4,1775.7 151.3,1776.1 154.1,1776.6 157.0,1777.1 159.9,1777.7 162.8,1778.3 165.7,1779.1 168.6,1779.9 171.5,1780.8 174.4,1781.8 177.3,1782.9 180.2,1784.2 183.1,1785.6 186.0,1787.2 188.9,1788.9 191.8,1790.9 194.7,1793.0 197.6,1795.4 200.4,1798.0 203.3,1801.0 206.2,1804.2 209.1,1807.7 212.0,1811.5 214.9,1815.7 217.8,1820.3 220.7,1825.2 223.6,1830.6 226.5,1836.3 229.4,1842.5 232.3,1849.0 235.2,1856.0 238.1,1863.3 241.0,1871.0 243.8,1878.9 246.7,1887.2 249.6,1895.7 252.5,1904.4 255.4,1913.2 258.3,1922.1 261.2,1930.9 264.1,1939.8 267.0,1948.5 269.9,1957.0 272.8,1965.3 275.7,1973.3 278.6,1981.0 281.5,1988.4 284.4,1995.4 287.3,2002.0 290.1,2008.2 293.0,2014.0 295.9,2019.4 298.8,2024.4 301.7,2029.0 304.6,2033.3 307.5,2037.2 310.4,2040.7 313.3,2044.0 316.2,2046.9 319.1,2049.6 322.0,2052.0 324.9,2054.2 327.8,2056.2 330.7,2057.9 333.6,2059.5 336.4,2061.0 339.3,2062.2 342.2,2063.4 345.1,2064.4 348.0,2065.3 350.9,2066.2 353.8,2066.9 356.7,2067.6 359.6,2068.1 362.5,2068.7 365.4,2069.1 368.3,2069.5 371.2,2069.9 374.1,2070.2 377.0,2070.5 379.8,2070.8 382.7,2071.0 385.6,2071.2 388.5,2071.4 391.4,2071.6 394.3,2071.7 397.2,2071.9 400.1,2072.0 403.0,2072.1 405.9,2072.2 408.8,2072.2 411.7,2072.3 414.6,2072.4 417.5,2072.4 420.4,2072.5 423.3,2072.5 426.1,2072.6 429.0,2072.6 431.9,2072.6 434.8,2072.7 437.7,2072.7 440.6,2072.7 443.5,2072.7 446.4,2072.8 449.3,2072.8 452.2,2072.8 455.1,2072.8 458.0,2072.8 460.9,2072.8 463.8,2072.8 466.7,2072.8 469.5,2072.8 472.4,2072.8 475.3,2072.9 478.2,2072.9 481.1,2072.9 484.0,2072.9 486.9,2072.9 489.8,2072.9 492.7,2072.9 495.6,2072.9 498.5,2072.9 501.4,2072.9 504.3,2072.9 507.2,2072.9 510.1,2072.9 513.0,2072.9 515.8,2072.9 518.7,2072.9 521.6,2072.9 524.5,2072.9 527.4,2072.9 530.3,2072.9 533.2,2072.9 536.1,2072.9" fill="none" stroke="#000" stroke-width="4.2" stroke-linecap="round" stroke-linejoin="round"/>
<rect x="100.0" y="1766.8" width="7.9" height="9.5" rx="1.6" ry="1.6" fill="#C6C6C6"/>
<rect x="201.2" y="1823.4" width="7.9" height="9.5" rx="1.6" ry="1.6" fill="#C6C6C6"/>
<rect x="256.3" y="1929.6" width="7.9" height="9.5" rx="1.6" ry="1.6" fill="#C6C6C6"/>
<rect x="311.4" y="2058.8" width="7.9" height="9.5" rx="1.6" ry="1.6" fill="#C6C6C6"/>
<rect x="366.5" y="2054.6" width="7.9" height="9.5" rx="1.6" ry="1.6" fill="#C6C6C6"/>
<rect x="421.6" y="2054.0" width="7.9" height="9.5" rx="1.6" ry="1.6" fill="#C6C6C6"/>
<rect x="476.7" y="2065.9" width="7.9" height="9.5" rx="1.6" ry="1.6" fill="#C6C6C6"/>
<rect x="531.9" y="2071.9" width="7.9" height="9.5" rx="1.6" ry="1.6" fill="#C6C6C6"/>
<polyline points="131.0,1775.9 133.9,1776.3 136.8,1776.7 139.7,1777.2 142.6,1777.7 145.5,1778.3 148.4,1779.0 151.3,1779.7 154.1,1780.5 157.0,1781.4 159.9,1782.3 162.8,1783.4 165.7,1784.6 168.6,1785.9 171.5,1787.3 174.4,1788.9 177.3,1790.6 180.2,1792.5 183.1,1794.6 186.0,1796.8 188.9,1799.3 191.8,1802.0 194.7,1804.9 197.6,1808.0 200.4,1811.5 203.3,1815.1 206.2,1819.1 209.1,1823.4 212.0,1828.0 214.9,1832.9 217.8,1838.1 220.7,1843.6 223.6,1849.4 226.5,1855.6 229.4,1862.0 232.3,1868.7 235.2,1875.6 238.1,1882.7 241.0,1890.1 243.8,1897.6 246.7,1905.3 249.6,1913.0 252.5,1920.8 255.4,1928.6 258.3,1936.3 261.2,1944.0 264.1,1951.5 267.0,1958.9 269.9,1966.1 272.8,1973.0 275.7,1979.7 278.6,1986.2 281.5,1992.3 284.4,1998.2 287.3,2003.8 290.1,2009.0 293.0,2013.9 295.9,2018.5 298.8,2022.8 301.7,2026.9 304.6,2030.6 307.5,2034.0 310.4,2037.2 313.3,2040.2 316.2,2042.9 319.1,2045.4 322.0,2047.7 324.9,2049.7 327.8,2051.6 330.7,2053.4 333.6,2055.0 336.4,2056.4 339.3,2057.7 342.2,2058.9 345.1,2060.0 348.0,2061.0 350.9,2061.9 353.8,2062.7 356.7,2063.4 359.6,2064.1 362.5,2064.7 365.4,2065.2 368.3,2065.7 371.2,2066.1 374.1,2066.5 377.0,2066.9 379.8,2067.2 382.7,2067.5 385.6,2067.8 388.5,2068.0 391.4,2068.2 394.3,2068.4 397.2,2068.6 400.1,2068.8 403.0,2068.9 405.9,2069.0 408.8,2069.2 411.7,2069.3 414.6,2069.4 417.5,2069.4 420.4,2069.5 423.3,2069.6 426.1,2069.6 429.0,2069.7 431.9,2069.8 434.8,2069.8 437.7,2069.8 440.6,2069.9 443.5,2069.9 446.4,2069.9 449.3,2070.0 452.2,2070.0 455.1,2070.0 458.0,2070.0 460.9,2070.1 463.8,2070.1 466.7,2070.1 469.5,2070.1 472.4,2070.1 475.3,2070.1 478.2,2070.1 481.1,2070.1 484.0,2070.1 486.9,2070.2 489.8,2070.2 492.7,2070.2 495.6,2070.2 498.5,2070.2 501.4,2070.2 504.3,2070.2 507.2,2070.2 510.1,2070.2 513.0,2070.2 515.8,2070.2 518.7,2070.2 521.6,2070.2 524.5,2070.2 527.4,2070.2 530.3,2070.2 533.2,2070.2 536.1,2070.2" fill="none" stroke="#C6C6C6" stroke-width="4.2" stroke-linecap="round" stroke-linejoin="round"/>
<rect x="87.80" y="1692.20" width="466.80" height="417.80" fill="none" stroke="#000" stroke-width="2"/>
<line x1="87.80" y1="2094.60" x2="79.50" y2="2094.60" stroke="#000" stroke-width="2"/>
<text x="0.00" y="0.00" font-size="23.0" text-anchor="end" font-weight="normal" fill="#111" stroke="#111" stroke-width="0.14" transform="translate(72.40 2099.70) scale(0.945 1)">0.0</text>
<line x1="87.80" y1="2030.00" x2="79.50" y2="2030.00" stroke="#000" stroke-width="2"/>
<text x="0.00" y="0.00" font-size="23.0" text-anchor="end" font-weight="normal" fill="#111" stroke="#111" stroke-width="0.14" transform="translate(72.40 2035.10) scale(0.945 1)">0.2</text>
<line x1="87.80" y1="1965.40" x2="79.50" y2="1965.40" stroke="#000" stroke-width="2"/>
<text x="0.00" y="0.00" font-size="23.0" text-anchor="end" font-weight="normal" fill="#111" stroke="#111" stroke-width="0.14" transform="translate(72.40 1970.50) scale(0.945 1)">0.4</text>
<line x1="87.80" y1="1900.80" x2="79.50" y2="1900.80" stroke="#000" stroke-width="2"/>
<text x="0.00" y="0.00" font-size="23.0" text-anchor="end" font-weight="normal" fill="#111" stroke="#111" stroke-width="0.14" transform="translate(72.40 1905.90) scale(0.945 1)">0.6</text>
<line x1="87.80" y1="1836.20" x2="79.50" y2="1836.20" stroke="#000" stroke-width="2"/>
<text x="0.00" y="0.00" font-size="23.0" text-anchor="end" font-weight="normal" fill="#111" stroke="#111" stroke-width="0.14" transform="translate(72.40 1841.30) scale(0.945 1)">0.8</text>
<line x1="87.80" y1="1771.60" x2="79.50" y2="1771.60" stroke="#000" stroke-width="2"/>
<text x="0.00" y="0.00" font-size="23.0" text-anchor="end" font-weight="normal" fill="#111" stroke="#111" stroke-width="0.14" transform="translate(72.40 1776.70) scale(0.945 1)">1.0</text>
<line x1="87.80" y1="1707.00" x2="79.50" y2="1707.00" stroke="#000" stroke-width="2"/>
<text x="0.00" y="0.00" font-size="23.0" text-anchor="end" font-weight="normal" fill="#111" stroke="#111" stroke-width="0.14" transform="translate(72.40 1712.10) scale(0.945 1)">1.2</text>
<line x1="104.90" y1="2110.00" x2="104.90" y2="2118.60" stroke="#000" stroke-width="2"/>
<text x="107.50" y="2139.20" font-size="21.6" text-anchor="middle" font-weight="normal" fill="#111" stroke="#111" stroke-width="0.13">0</text>
<line x1="262.80" y1="2110.00" x2="262.80" y2="2118.60" stroke="#000" stroke-width="2"/>
<text x="271.00" y="2139.20" font-size="21.6" text-anchor="middle" font-weight="normal" fill="#111" stroke="#111" stroke-width="0.13">0.01</text>
<line x1="420.80" y1="2110.00" x2="420.80" y2="2118.60" stroke="#000" stroke-width="2"/>
<text x="423.50" y="2139.20" font-size="21.6" text-anchor="middle" font-weight="normal" fill="#111" stroke="#111" stroke-width="0.13">1</text>
<polygon points="118.8,2114.8 129.6,2105.6 138.7,2105.6 127.9,2114.8" fill="#fff"/>
<line x1="118.80" y1="2114.80" x2="129.60" y2="2105.60" stroke="#000" stroke-width="2.0"/>
<line x1="127.90" y1="2114.80" x2="138.70" y2="2105.60" stroke="#000" stroke-width="2.0"/>
<text x="295.70" y="2187.90" font-size="28.0" text-anchor="middle" font-weight="normal" fill="#111" stroke="#111" stroke-width="0.17">dasatinib [µM]</text>
<text x="289.40" y="1672.10" font-size="36.7" text-anchor="middle" font-weight="bold" fill="#000" stroke="#000" stroke-width="0.22">Abl2</text>
<rect x="315.20" y="1692.20" width="239.40" height="97.70" fill="#fff" stroke="#000" stroke-width="2"/>
<line x1="327.90" y1="1717.00" x2="343.20" y2="1717.00" stroke="#DC2A1B" stroke-width="4.2" stroke-linecap="round"/>
<text x="352.00" y="1723.70" font-size="20" text-anchor="start" font-weight="normal" fill="#111" stroke="#111" stroke-width="0.12">Donor1:</text>
<text x="435.30" y="1723.70" font-size="20" text-anchor="start" font-weight="normal" fill="#111" stroke="#111" stroke-width="0.12">pIC</text>
<text x="467.20" y="1730.60" font-size="11.8" text-anchor="start" font-weight="normal" fill="#111" stroke="#111" stroke-width="0.07">50</text>
<text x="485.70" y="1723.70" font-size="20" text-anchor="start" font-weight="normal" fill="#111" stroke="#111" stroke-width="0.12">=</text>
<text x="509.20" y="1723.70" font-size="20" text-anchor="start" font-weight="normal" fill="#111" stroke="#111" stroke-width="0.12">8.2</text>
<line x1="327.90" y1="1741.35" x2="343.20" y2="1741.35" stroke="#000" stroke-width="4.2" stroke-linecap="round"/>
<text x="352.00" y="1748.05" font-size="20" text-anchor="start" font-weight="normal" fill="#111" stroke="#111" stroke-width="0.12">Donor2:</text>
<text x="435.30" y="1748.05" font-size="20" text-anchor="start" font-weight="normal" fill="#111" stroke="#111" stroke-width="0.12">pIC</text>
<text x="467.20" y="1754.95" font-size="11.8" text-anchor="start" font-weight="normal" fill="#111" stroke="#111" stroke-width="0.07">50</text>
<text x="485.70" y="1748.05" font-size="20" text-anchor="start" font-weight="normal" fill="#111" stroke="#111" stroke-width="0.12">=</text>
<text x="509.20" y="1748.05" font-size="20" text-anchor="start" font-weight="normal" fill="#111" stroke="#111" stroke-width="0.12">8.0</text>
<line x1="327.90" y1="1765.70" x2="343.20" y2="1765.70" stroke="#C6C6C6" stroke-width="4.2" stroke-linecap="round"/>
<text x="352.00" y="1772.40" font-size="20" text-anchor="start" font-weight="normal" fill="#111" stroke="#111" stroke-width="0.12">Donor3:</text>
<text x="435.30" y="1772.40" font-size="20" text-anchor="start" font-weight="normal" fill="#111" stroke="#111" stroke-width="0.12">pIC</text>
<text x="467.20" y="1779.30" font-size="11.8" text-anchor="start" font-weight="normal" fill="#111" stroke="#111" stroke-width="0.07">50</text>
<text x="485.70" y="1772.40" font-size="20" text-anchor="start" font-weight="normal" fill="#111" stroke="#111" stroke-width="0.12">=</text>
<text x="509.20" y="1772.40" font-size="20" text-anchor="start" font-weight="normal" fill="#111" stroke="#111" stroke-width="0.12">8.2</text>
<rect x="746.3" y="1806.6" width="7.9" height="9.5" rx="1.6" ry="1.6" fill="#DC2A1B"/>
<rect x="801.5" y="1810.8" width="7.9" height="9.5" rx="1.6" ry="1.6" fill="#DC2A1B"/>
<rect x="856.6" y="1902.5" width="7.9" height="9.5" rx="1.6" ry="1.6" fill="#DC2A1B"/>
<rect x="911.7" y="2001.7" width="7.9" height="9.5" rx="1.6" ry="1.6" fill="#DC2A1B"/>
<rect x="966.8" y="1982.0" width="7.9" height="9.5" rx="1.6" ry="1.6" fill="#DC2A1B"/>
<rect x="1021.9" y="2045.6" width="7.9" height="9.5" rx="1.6" ry="1.6" fill="#DC2A1B"/>
<rect x="1077.1" y="2054.6" width="7.9" height="9.5" rx="1.6" ry="1.6" fill="#DC2A1B"/>
<polyline points="676.2,1776.8 679.1,1777.1 682.0,1777.5 684.9,1777.8 687.8,1778.2 690.7,1778.6 693.6,1779.0 696.5,1779.5 699.3,1779.9 702.2,1780.4 705.1,1781.0 708.0,1781.5 710.9,1782.1 713.8,1782.8 716.7,1783.4 719.6,1784.1 722.5,1784.9 725.4,1785.6 728.3,1786.5 731.2,1787.3 734.1,1788.3 737.0,1789.2 739.9,1790.3 742.8,1791.3 745.6,1792.5 748.5,1793.7 751.4,1794.9 754.3,1796.3 757.2,1797.6 760.1,1799.1 763.0,1800.6 765.9,1802.3 768.8,1803.9 771.7,1805.7 774.6,1807.6 777.5,1809.5 780.4,1811.5 783.3,1813.6 786.2,1815.8 789.0,1818.1 791.9,1820.5 794.8,1823.0 797.7,1825.6 800.6,1828.3 803.5,1831.1 806.4,1833.9 809.3,1836.9 812.2,1840.0 815.1,1843.2 818.0,1846.5 820.9,1849.8 823.8,1853.3 826.7,1856.8 829.6,1860.4 832.5,1864.2 835.3,1868.0 838.2,1871.8 841.1,1875.7 844.0,1879.7 846.9,1883.8 849.8,1887.9 852.7,1892.0 855.6,1896.2 858.5,1900.4 861.4,1904.7 864.3,1908.9 867.2,1913.2 870.1,1917.4 873.0,1921.7 875.9,1925.9 878.8,1930.1 881.6,1934.3 884.5,1938.4 887.4,1942.5 890.3,1946.6 893.2,1950.5 896.1,1954.5 899.0,1958.3 901.9,1962.1 904.8,1965.8 907.7,1969.4 910.6,1972.9 913.5,1976.3 916.4,1979.7 919.3,1982.9 922.2,1986.1 925.0,1989.1 927.9,1992.1 930.8,1995.0 933.7,1997.7 936.6,2000.4 939.5,2003.0 942.4,2005.4 945.3,2007.8 948.2,2010.1 951.1,2012.2 954.0,2014.3 956.9,2016.3 959.8,2018.3 962.7,2020.1 965.6,2021.8 968.5,2023.5 971.3,2025.1 974.2,2026.6 977.1,2028.1 980.0,2029.4 982.9,2030.8 985.8,2032.0 988.7,2033.2 991.6,2034.3 994.5,2035.4 997.4,2036.4 1000.3,2037.4 1003.2,2038.3 1006.1,2039.1 1009.0,2039.9 1011.9,2040.7 1014.7,2041.4 1017.6,2042.1 1020.5,2042.8 1023.4,2043.4 1026.3,2044.0 1029.2,2044.6 1032.1,2045.1 1035.0,2045.6 1037.9,2046.0 1040.8,2046.5 1043.7,2046.9 1046.6,2047.3 1049.5,2047.7 1052.4,2048.0 1055.3,2048.4 1058.2,2048.7 1061.0,2049.0 1063.9,2049.2 1066.8,2049.5 1069.7,2049.8 1072.6,2050.0 1075.5,2050.2 1078.4,2050.4 1081.3,2050.6" fill="none" stroke="#DC2A1B" stroke-width="4.2" stroke-linecap="round" stroke-linejoin="round"/>
<rect x="746.3" y="1810.8" width="7.9" height="9.5" rx="1.6" ry="1.6" fill="#000"/>
<rect x="801.5" y="1786.9" width="7.9" height="9.5" rx="1.6" ry="1.6" fill="#000"/>
<rect x="856.6" y="1898.3" width="7.9" height="9.5" rx="1.6" ry="1.6" fill="#000"/>
<rect x="911.7" y="2013.0" width="7.9" height="9.5" rx="1.6" ry="1.6" fill="#000"/>
<rect x="966.8" y="2032.7" width="7.9" height="9.5" rx="1.6" ry="1.6" fill="#000"/>
<rect x="1021.9" y="2060.1" width="7.9" height="9.5" rx="1.6" ry="1.6" fill="#000"/>
<rect x="1077.1" y="2067.6" width="7.9" height="9.5" rx="1.6" ry="1.6" fill="#000"/>
<polyline points="676.2,1773.6 679.1,1773.6 682.0,1773.7 684.9,1773.8 687.8,1773.9 690.7,1774.0 693.6,1774.1 696.5,1774.3 699.3,1774.4 702.2,1774.6 705.1,1774.7 708.0,1774.9 710.9,1775.1 713.8,1775.3 716.7,1775.6 719.6,1775.8 722.5,1776.1 725.4,1776.4 728.3,1776.8 731.2,1777.1 734.1,1777.5 737.0,1777.9 739.9,1778.4 742.8,1778.9 745.6,1779.5 748.5,1780.1 751.4,1780.7 754.3,1781.5 757.2,1782.2 760.1,1783.1 763.0,1784.0 765.9,1785.0 768.8,1786.0 771.7,1787.2 774.6,1788.5 777.5,1789.8 780.4,1791.3 783.3,1792.9 786.2,1794.6 789.0,1796.4 791.9,1798.4 794.8,1800.5 797.7,1802.8 800.6,1805.3 803.5,1807.9 806.4,1810.7 809.3,1813.7 812.2,1816.9 815.1,1820.3 818.0,1823.9 820.9,1827.7 823.8,1831.8 826.7,1836.0 829.6,1840.5 832.5,1845.1 835.3,1850.0 838.2,1855.1 841.1,1860.4 844.0,1865.9 846.9,1871.6 849.8,1877.4 852.7,1883.4 855.6,1889.5 858.5,1895.7 861.4,1902.0 864.3,1908.4 867.2,1914.8 870.1,1921.3 873.0,1927.7 875.9,1934.1 878.8,1940.4 881.6,1946.7 884.5,1952.9 887.4,1958.9 890.3,1964.8 893.2,1970.5 896.1,1976.1 899.0,1981.5 901.9,1986.6 904.8,1991.6 907.7,1996.4 910.6,2000.9 913.5,2005.3 916.4,2009.4 919.3,2013.3 922.2,2017.0 925.0,2020.5 927.9,2023.7 930.8,2026.8 933.7,2029.7 936.6,2032.4 939.5,2034.9 942.4,2037.3 945.3,2039.5 948.2,2041.5 951.1,2043.4 954.0,2045.2 956.9,2046.8 959.8,2048.3 962.7,2049.7 965.6,2051.0 968.5,2052.2 971.3,2053.3 974.2,2054.3 977.1,2055.3 980.0,2056.2 982.9,2057.0 985.8,2057.7 988.7,2058.4 991.6,2059.0 994.5,2059.6 997.4,2060.1 1000.3,2060.6 1003.2,2061.0 1006.1,2061.4 1009.0,2061.8 1011.9,2062.2 1014.7,2062.5 1017.6,2062.8 1020.5,2063.0 1023.4,2063.3 1026.3,2063.5 1029.2,2063.7 1032.1,2063.9 1035.0,2064.1 1037.9,2064.2 1040.8,2064.4 1043.7,2064.5 1046.6,2064.6 1049.5,2064.8 1052.4,2064.9 1055.3,2064.9 1058.2,2065.0 1061.0,2065.1 1063.9,2065.2 1066.8,2065.3 1069.7,2065.3 1072.6,2065.4 1075.5,2065.4 1078.4,2065.5 1081.3,2065.5" fill="none" stroke="#000" stroke-width="4.2" stroke-linecap="round" stroke-linejoin="round"/>
<rect x="645.2" y="1766.8" width="7.9" height="9.5" rx="1.6" ry="1.6" fill="#C6C6C6"/>
<rect x="746.3" y="1785.3" width="7.9" height="9.5" rx="1.6" ry="1.6" fill="#C6C6C6"/>
<rect x="801.5" y="1792.4" width="7.9" height="9.5" rx="1.6" ry="1.6" fill="#C6C6C6"/>
<rect x="856.6" y="1921.9" width="7.9" height="9.5" rx="1.6" ry="1.6" fill="#C6C6C6"/>
<rect x="911.7" y="2007.6" width="7.9" height="9.5" rx="1.6" ry="1.6" fill="#C6C6C6"/>
<rect x="966.8" y="2041.7" width="7.9" height="9.5" rx="1.6" ry="1.6" fill="#C6C6C6"/>
<rect x="1021.9" y="2054.6" width="7.9" height="9.5" rx="1.6" ry="1.6" fill="#C6C6C6"/>
<rect x="1077.1" y="2064.7" width="7.9" height="9.5" rx="1.6" ry="1.6" fill="#C6C6C6"/>
<polyline points="676.2,1773.4 679.1,1773.4 682.0,1773.5 684.9,1773.6 687.8,1773.7 690.7,1773.7 693.6,1773.8 696.5,1774.0 699.3,1774.1 702.2,1774.2 705.1,1774.4 708.0,1774.5 710.9,1774.7 713.8,1774.9 716.7,1775.1 719.6,1775.4 722.5,1775.6 725.4,1775.9 728.3,1776.2 731.2,1776.5 734.1,1776.9 737.0,1777.3 739.9,1777.8 742.8,1778.3 745.6,1778.8 748.5,1779.4 751.4,1780.1 754.3,1780.8 757.2,1781.6 760.1,1782.4 763.0,1783.3 765.9,1784.3 768.8,1785.5 771.7,1786.7 774.6,1788.0 777.5,1789.4 780.4,1791.0 783.3,1792.7 786.2,1794.5 789.0,1796.5 791.9,1798.6 794.8,1801.0 797.7,1803.5 800.6,1806.2 803.5,1809.1 806.4,1812.2 809.3,1815.6 812.2,1819.2 815.1,1823.0 818.0,1827.1 820.9,1831.4 823.8,1836.0 826.7,1840.8 829.6,1845.9 832.5,1851.2 835.3,1856.7 838.2,1862.5 841.1,1868.4 844.0,1874.6 846.9,1881.0 849.8,1887.5 852.7,1894.1 855.6,1900.8 858.5,1907.6 861.4,1914.4 864.3,1921.3 867.2,1928.1 870.1,1934.9 873.0,1941.6 875.9,1948.2 878.8,1954.6 881.6,1960.9 884.5,1967.0 887.4,1973.0 890.3,1978.7 893.2,1984.1 896.1,1989.4 899.0,1994.3 901.9,1999.1 904.8,2003.6 907.7,2007.8 910.6,2011.8 913.5,2015.6 916.4,2019.1 919.3,2022.4 922.2,2025.4 925.0,2028.3 927.9,2030.9 930.8,2033.4 933.7,2035.7 936.6,2037.8 939.5,2039.7 942.4,2041.5 945.3,2043.2 948.2,2044.7 951.1,2046.1 954.0,2047.4 956.9,2048.5 959.8,2049.6 962.7,2050.6 965.6,2051.5 968.5,2052.3 971.3,2053.1 974.2,2053.8 977.1,2054.4 980.0,2055.0 982.9,2055.5 985.8,2056.0 988.7,2056.4 991.6,2056.8 994.5,2057.2 997.4,2057.5 1000.3,2057.8 1003.2,2058.1 1006.1,2058.4 1009.0,2058.6 1011.9,2058.8 1014.7,2059.0 1017.6,2059.2 1020.5,2059.3 1023.4,2059.5 1026.3,2059.6 1029.2,2059.7 1032.1,2059.8 1035.0,2059.9 1037.9,2060.0 1040.8,2060.1 1043.7,2060.2 1046.6,2060.2 1049.5,2060.3 1052.4,2060.4 1055.3,2060.4 1058.2,2060.4 1061.0,2060.5 1063.9,2060.5 1066.8,2060.6 1069.7,2060.6 1072.6,2060.6 1075.5,2060.6 1078.4,2060.7 1081.3,2060.7" fill="none" stroke="#C6C6C6" stroke-width="4.2" stroke-linecap="round" stroke-linejoin="round"/>
<rect x="633.20" y="1692.20" width="466.80" height="417.80" fill="none" stroke="#000" stroke-width="2"/>
<line x1="633.20" y1="2094.60" x2="624.90" y2="2094.60" stroke="#000" stroke-width="2"/>
<text x="0.00" y="0.00" font-size="23.0" text-anchor="end" font-weight="normal" fill="#111" stroke="#111" stroke-width="0.14" transform="translate(617.80 2099.70) scale(0.945 1)">0.0</text>
<line x1="633.20" y1="2030.00" x2="624.90" y2="2030.00" stroke="#000" stroke-width="2"/>
<text x="0.00" y="0.00" font-size="23.0" text-anchor="end" font-weight="normal" fill="#111" stroke="#111" stroke-width="0.14" transform="translate(617.80 2035.10) scale(0.945 1)">0.2</text>
<line x1="633.20" y1="1965.40" x2="624.90" y2="1965.40" stroke="#000" stroke-width="2"/>
<text x="0.00" y="0.00" font-size="23.0" text-anchor="end" font-weight="normal" fill="#111" stroke="#111" stroke-width="0.14" transform="translate(617.80 1970.50) scale(0.945 1)">0.4</text>
<line x1="633.20" y1="1900.80" x2="624.90" y2="1900.80" stroke="#000" stroke-width="2"/>
<text x="0.00" y="0.00" font-size="23.0" text-anchor="end" font-weight="normal" fill="#111" stroke="#111" stroke-width="0.14" transform="translate(617.80 1905.90) scale(0.945 1)">0.6</text>
<line x1="633.20" y1="1836.20" x2="624.90" y2="1836.20" stroke="#000" stroke-width="2"/>
<text x="0.00" y="0.00" font-size="23.0" text-anchor="end" font-weight="normal" fill="#111" stroke="#111" stroke-width="0.14" transform="translate(617.80 1841.30) scale(0.945 1)">0.8</text>
<line x1="633.20" y1="1771.60" x2="624.90" y2="1771.60" stroke="#000" stroke-width="2"/>
<text x="0.00" y="0.00" font-size="23.0" text-anchor="end" font-weight="normal" fill="#111" stroke="#111" stroke-width="0.14" transform="translate(617.80 1776.70) scale(0.945 1)">1.0</text>
<line x1="633.20" y1="1707.00" x2="624.90" y2="1707.00" stroke="#000" stroke-width="2"/>
<text x="0.00" y="0.00" font-size="23.0" text-anchor="end" font-weight="normal" fill="#111" stroke="#111" stroke-width="0.14" transform="translate(617.80 1712.10) scale(0.945 1)">1.2</text>
<line x1="650.30" y1="2110.00" x2="650.30" y2="2118.60" stroke="#000" stroke-width="2"/>
<text x="652.90" y="2139.20" font-size="21.6" text-anchor="middle" font-weight="normal" fill="#111" stroke="#111" stroke-width="0.13">0</text>
<line x1="808.20" y1="2110.00" x2="808.20" y2="2118.60" stroke="#000" stroke-width="2"/>
<text x="816.40" y="2139.20" font-size="21.6" text-anchor="middle" font-weight="normal" fill="#111" stroke="#111" stroke-width="0.13">0.01</text>
<line x1="966.20" y1="2110.00" x2="966.20" y2="2118.60" stroke="#000" stroke-width="2"/>
<text x="968.90" y="2139.20" font-size="21.6" text-anchor="middle" font-weight="normal" fill="#111" stroke="#111" stroke-width="0.13">1</text>
<polygon points="664.2,2114.8 675.0,2105.6 684.1,2105.6 673.3,2114.8" fill="#fff"/>
<line x1="664.20" y1="2114.80" x2="675.00" y2="2105.60" stroke="#000" stroke-width="2.0"/>
<line x1="673.30" y1="2114.80" x2="684.10" y2="2105.60" stroke="#000" stroke-width="2.0"/>
<text x="841.10" y="2187.90" font-size="28.0" text-anchor="middle" font-weight="normal" fill="#111" stroke="#111" stroke-width="0.17">dasatinib [µM]</text>
<text x="838.50" y="1672.10" font-size="36.7" text-anchor="middle" font-weight="bold" fill="#000" stroke="#000" stroke-width="0.22">Txk</text>
<rect x="860.30" y="1692.20" width="239.70" height="97.70" fill="#fff" stroke="#000" stroke-width="2"/>
<line x1="872.50" y1="1717.00" x2="888.80" y2="1717.00" stroke="#DC2A1B" stroke-width="4.2" stroke-linecap="round"/>
<text x="897.80" y="1723.70" font-size="20" text-anchor="start" font-weight="normal" fill="#111" stroke="#111" stroke-width="0.12">Donor1:</text>
<text x="981.10" y="1723.70" font-size="20" text-anchor="start" font-weight="normal" fill="#111" stroke="#111" stroke-width="0.12">pIC</text>
<text x="1013.00" y="1730.60" font-size="11.8" text-anchor="start" font-weight="normal" fill="#111" stroke="#111" stroke-width="0.07">50</text>
<text x="1031.50" y="1723.70" font-size="20" text-anchor="start" font-weight="normal" fill="#111" stroke="#111" stroke-width="0.12">=</text>
<text x="1055.00" y="1723.70" font-size="20" text-anchor="start" font-weight="normal" fill="#111" stroke="#111" stroke-width="0.12">7.3</text>
<line x1="872.50" y1="1741.35" x2="888.80" y2="1741.35" stroke="#000" stroke-width="4.2" stroke-linecap="round"/>
<text x="897.80" y="1748.05" font-size="20" text-anchor="start" font-weight="normal" fill="#111" stroke="#111" stroke-width="0.12">Donor2:</text>
<text x="981.10" y="1748.05" font-size="20" text-anchor="start" font-weight="normal" fill="#111" stroke="#111" stroke-width="0.12">pIC</text>
<text x="1013.00" y="1754.95" font-size="11.8" text-anchor="start" font-weight="normal" fill="#111" stroke="#111" stroke-width="0.07">50</text>
<text x="1031.50" y="1748.05" font-size="20" text-anchor="start" font-weight="normal" fill="#111" stroke="#111" stroke-width="0.12">=</text>
<text x="1055.00" y="1748.05" font-size="20" text-anchor="start" font-weight="normal" fill="#111" stroke="#111" stroke-width="0.12">7.2</text>
<line x1="872.50" y1="1765.70" x2="888.80" y2="1765.70" stroke="#C6C6C6" stroke-width="4.2" stroke-linecap="round"/>
<text x="897.80" y="1772.40" font-size="20" text-anchor="start" font-weight="normal" fill="#111" stroke="#111" stroke-width="0.12">Donor3:</text>
<text x="981.10" y="1772.40" font-size="20" text-anchor="start" font-weight="normal" fill="#111" stroke="#111" stroke-width="0.12">pIC</text>
<text x="1013.00" y="1779.30" font-size="11.8" text-anchor="start" font-weight="normal" fill="#111" stroke="#111" stroke-width="0.07">50</text>
<text x="1031.50" y="1772.40" font-size="20" text-anchor="start" font-weight="normal" fill="#111" stroke="#111" stroke-width="0.12">=</text>
<text x="1055.00" y="1772.40" font-size="20" text-anchor="start" font-weight="normal" fill="#111" stroke="#111" stroke-width="0.12">7.3</text>
<rect x="1291.3" y="1782.4" width="7.9" height="9.5" rx="1.6" ry="1.6" fill="#DC2A1B"/>
<rect x="1346.5" y="1798.5" width="7.9" height="9.5" rx="1.6" ry="1.6" fill="#DC2A1B"/>
<rect x="1401.6" y="1799.1" width="7.9" height="9.5" rx="1.6" ry="1.6" fill="#DC2A1B"/>
<rect x="1456.7" y="1859.9" width="7.9" height="9.5" rx="1.6" ry="1.6" fill="#DC2A1B"/>
<rect x="1511.8" y="1928.3" width="7.9" height="9.5" rx="1.6" ry="1.6" fill="#DC2A1B"/>
<rect x="1566.9" y="2035.3" width="7.9" height="9.5" rx="1.6" ry="1.6" fill="#DC2A1B"/>
<rect x="1622.1" y="2065.0" width="7.9" height="9.5" rx="1.6" ry="1.6" fill="#DC2A1B"/>
<polyline points="1221.2,1774.9 1224.1,1775.0 1227.0,1775.0 1229.9,1775.1 1232.8,1775.2 1235.7,1775.3 1238.6,1775.4 1241.5,1775.5 1244.3,1775.6 1247.2,1775.7 1250.1,1775.8 1253.0,1776.0 1255.9,1776.1 1258.8,1776.2 1261.7,1776.4 1264.6,1776.6 1267.5,1776.7 1270.4,1776.9 1273.3,1777.1 1276.2,1777.3 1279.1,1777.5 1282.0,1777.7 1284.9,1777.9 1287.8,1778.2 1290.6,1778.4 1293.5,1778.7 1296.4,1779.0 1299.3,1779.3 1302.2,1779.6 1305.1,1779.9 1308.0,1780.3 1310.9,1780.7 1313.8,1781.1 1316.7,1781.5 1319.6,1781.9 1322.5,1782.4 1325.4,1782.8 1328.3,1783.4 1331.2,1783.9 1334.0,1784.4 1336.9,1785.0 1339.8,1785.7 1342.7,1786.3 1345.6,1787.0 1348.5,1787.7 1351.4,1788.5 1354.3,1789.3 1357.2,1790.1 1360.1,1791.0 1363.0,1791.9 1365.9,1792.9 1368.8,1793.9 1371.7,1795.0 1374.6,1796.1 1377.5,1797.3 1380.3,1798.5 1383.2,1799.8 1386.1,1801.2 1389.0,1802.6 1391.9,1804.1 1394.8,1805.6 1397.7,1807.2 1400.6,1808.9 1403.5,1810.7 1406.4,1812.5 1409.3,1814.4 1412.2,1816.4 1415.1,1818.5 1418.0,1820.7 1420.9,1822.9 1423.8,1825.3 1426.6,1827.7 1429.5,1830.2 1432.4,1832.9 1435.3,1835.6 1438.2,1838.4 1441.1,1841.3 1444.0,1844.3 1446.9,1847.4 1449.8,1850.6 1452.7,1853.9 1455.6,1857.3 1458.5,1860.8 1461.4,1864.3 1464.3,1868.0 1467.2,1871.7 1470.0,1875.6 1472.9,1879.5 1475.8,1883.5 1478.7,1887.6 1481.6,1891.8 1484.5,1896.0 1487.4,1900.3 1490.3,1904.6 1493.2,1909.0 1496.1,1913.5 1499.0,1918.0 1501.9,1922.5 1504.8,1927.0 1507.7,1931.6 1510.6,1936.2 1513.5,1940.8 1516.3,1945.4 1519.2,1950.0 1522.1,1954.6 1525.0,1959.2 1527.9,1963.7 1530.8,1968.2 1533.7,1972.7 1536.6,1977.1 1539.5,1981.5 1542.4,1985.8 1545.3,1990.1 1548.2,1994.3 1551.1,1998.5 1554.0,2002.5 1556.9,2006.5 1559.7,2010.4 1562.6,2014.2 1565.5,2017.9 1568.4,2021.6 1571.3,2025.1 1574.2,2028.6 1577.1,2031.9 1580.0,2035.2 1582.9,2038.4 1585.8,2041.4 1588.7,2044.4 1591.6,2047.3 1594.5,2050.1 1597.4,2052.7 1600.3,2055.3 1603.2,2057.8 1606.0,2060.2 1608.9,2062.6 1611.8,2064.8 1614.7,2066.9 1617.6,2069.0 1620.5,2071.0 1623.4,2072.9 1626.3,2074.7" fill="none" stroke="#DC2A1B" stroke-width="4.2" stroke-linecap="round" stroke-linejoin="round"/>
<rect x="1291.3" y="1798.5" width="7.9" height="9.5" rx="1.6" ry="1.6" fill="#000"/>
<rect x="1346.5" y="1753.6" width="7.9" height="9.5" rx="1.6" ry="1.6" fill="#000"/>
<rect x="1401.6" y="1791.1" width="7.9" height="9.5" rx="1.6" ry="1.6" fill="#000"/>
<rect x="1456.7" y="1867.6" width="7.9" height="9.5" rx="1.6" ry="1.6" fill="#000"/>
<rect x="1511.8" y="1943.2" width="7.9" height="9.5" rx="1.6" ry="1.6" fill="#000"/>
<rect x="1566.9" y="2030.7" width="7.9" height="9.5" rx="1.6" ry="1.6" fill="#000"/>
<rect x="1622.1" y="2062.1" width="7.9" height="9.5" rx="1.6" ry="1.6" fill="#000"/>
<polyline points="1221.2,1772.1 1224.1,1772.2 1227.0,1772.2 1229.9,1772.2 1232.8,1772.3 1235.7,1772.3 1238.6,1772.4 1241.5,1772.4 1244.3,1772.5 1247.2,1772.5 1250.1,1772.6 1253.0,1772.7 1255.9,1772.7 1258.8,1772.8 1261.7,1772.9 1264.6,1773.0 1267.5,1773.1 1270.4,1773.2 1273.3,1773.3 1276.2,1773.4 1279.1,1773.5 1282.0,1773.7 1284.9,1773.8 1287.8,1773.9 1290.6,1774.1 1293.5,1774.3 1296.4,1774.5 1299.3,1774.6 1302.2,1774.9 1305.1,1775.1 1308.0,1775.3 1310.9,1775.6 1313.8,1775.8 1316.7,1776.1 1319.6,1776.4 1322.5,1776.7 1325.4,1777.1 1328.3,1777.4 1331.2,1777.8 1334.0,1778.2 1336.9,1778.7 1339.8,1779.2 1342.7,1779.7 1345.6,1780.2 1348.5,1780.8 1351.4,1781.4 1354.3,1782.0 1357.2,1782.7 1360.1,1783.4 1363.0,1784.2 1365.9,1785.0 1368.8,1785.9 1371.7,1786.8 1374.6,1787.8 1377.5,1788.9 1380.3,1790.0 1383.2,1791.1 1386.1,1792.4 1389.0,1793.7 1391.9,1795.1 1394.8,1796.6 1397.7,1798.1 1400.6,1799.8 1403.5,1801.5 1406.4,1803.4 1409.3,1805.3 1412.2,1807.3 1415.1,1809.5 1418.0,1811.7 1420.9,1814.1 1423.8,1816.6 1426.6,1819.2 1429.5,1821.9 1432.4,1824.7 1435.3,1827.7 1438.2,1830.8 1441.1,1834.1 1444.0,1837.4 1446.9,1840.9 1449.8,1844.5 1452.7,1848.3 1455.6,1852.2 1458.5,1856.2 1461.4,1860.3 1464.3,1864.6 1467.2,1869.0 1470.0,1873.4 1472.9,1878.0 1475.8,1882.7 1478.7,1887.5 1481.6,1892.3 1484.5,1897.3 1487.4,1902.3 1490.3,1907.3 1493.2,1912.4 1496.1,1917.5 1499.0,1922.7 1501.9,1927.8 1504.8,1933.0 1507.7,1938.2 1510.6,1943.3 1513.5,1948.4 1516.3,1953.4 1519.2,1958.5 1522.1,1963.4 1525.0,1968.3 1527.9,1973.0 1530.8,1977.7 1533.7,1982.3 1536.6,1986.8 1539.5,1991.2 1542.4,1995.5 1545.3,1999.6 1548.2,2003.7 1551.1,2007.6 1554.0,2011.3 1556.9,2015.0 1559.7,2018.5 1562.6,2021.9 1565.5,2025.1 1568.4,2028.3 1571.3,2031.2 1574.2,2034.1 1577.1,2036.9 1580.0,2039.5 1582.9,2042.0 1585.8,2044.3 1588.7,2046.6 1591.6,2048.8 1594.5,2050.8 1597.4,2052.8 1600.3,2054.6 1603.2,2056.4 1606.0,2058.0 1608.9,2059.6 1611.8,2061.1 1614.7,2062.5 1617.6,2063.8 1620.5,2065.1 1623.4,2066.3 1626.3,2067.4" fill="none" stroke="#000" stroke-width="4.2" stroke-linecap="round" stroke-linejoin="round"/>
<rect x="1190.2" y="1766.8" width="7.9" height="9.5" rx="1.6" ry="1.6" fill="#C6C6C6"/>
<rect x="1291.3" y="1761.0" width="7.9" height="9.5" rx="1.6" ry="1.6" fill="#C6C6C6"/>
<rect x="1346.5" y="1731.3" width="7.9" height="9.5" rx="1.6" ry="1.6" fill="#C6C6C6"/>
<rect x="1401.6" y="1792.7" width="7.9" height="9.5" rx="1.6" ry="1.6" fill="#C6C6C6"/>
<rect x="1456.7" y="1837.3" width="7.9" height="9.5" rx="1.6" ry="1.6" fill="#C6C6C6"/>
<rect x="1511.8" y="1933.5" width="7.9" height="9.5" rx="1.6" ry="1.6" fill="#C6C6C6"/>
<rect x="1566.9" y="2005.2" width="7.9" height="9.5" rx="1.6" ry="1.6" fill="#C6C6C6"/>
<rect x="1622.1" y="2048.5" width="7.9" height="9.5" rx="1.6" ry="1.6" fill="#C6C6C6"/>
<polyline points="1221.2,1771.8 1224.1,1771.8 1227.0,1771.8 1229.9,1771.9 1232.8,1771.9 1235.7,1771.9 1238.6,1771.9 1241.5,1771.9 1244.3,1772.0 1247.2,1772.0 1250.1,1772.0 1253.0,1772.0 1255.9,1772.1 1258.8,1772.1 1261.7,1772.1 1264.6,1772.2 1267.5,1772.2 1270.4,1772.3 1273.3,1772.3 1276.2,1772.4 1279.1,1772.4 1282.0,1772.5 1284.9,1772.6 1287.8,1772.6 1290.6,1772.7 1293.5,1772.8 1296.4,1772.9 1299.3,1773.0 1302.2,1773.1 1305.1,1773.2 1308.0,1773.3 1310.9,1773.5 1313.8,1773.6 1316.7,1773.8 1319.6,1773.9 1322.5,1774.1 1325.4,1774.3 1328.3,1774.5 1331.2,1774.7 1334.0,1775.0 1336.9,1775.2 1339.8,1775.5 1342.7,1775.8 1345.6,1776.1 1348.5,1776.4 1351.4,1776.8 1354.3,1777.2 1357.2,1777.6 1360.1,1778.1 1363.0,1778.6 1365.9,1779.1 1368.8,1779.7 1371.7,1780.3 1374.6,1780.9 1377.5,1781.6 1380.3,1782.4 1383.2,1783.2 1386.1,1784.1 1389.0,1785.0 1391.9,1786.0 1394.8,1787.1 1397.7,1788.2 1400.6,1789.4 1403.5,1790.7 1406.4,1792.1 1409.3,1793.6 1412.2,1795.1 1415.1,1796.8 1418.0,1798.6 1420.9,1800.5 1423.8,1802.5 1426.6,1804.6 1429.5,1806.9 1432.4,1809.3 1435.3,1811.8 1438.2,1814.5 1441.1,1817.3 1444.0,1820.3 1446.9,1823.4 1449.8,1826.7 1452.7,1830.1 1455.6,1833.7 1458.5,1837.4 1461.4,1841.3 1464.3,1845.4 1467.2,1849.6 1470.0,1853.9 1472.9,1858.4 1475.8,1863.1 1478.7,1867.8 1481.6,1872.7 1484.5,1877.7 1487.4,1882.8 1490.3,1888.0 1493.2,1893.3 1496.1,1898.6 1499.0,1904.0 1501.9,1909.4 1504.8,1914.8 1507.7,1920.3 1510.6,1925.7 1513.5,1931.1 1516.3,1936.5 1519.2,1941.8 1522.1,1947.0 1525.0,1952.1 1527.9,1957.2 1530.8,1962.1 1533.7,1967.0 1536.6,1971.7 1539.5,1976.2 1542.4,1980.7 1545.3,1985.0 1548.2,1989.1 1551.1,1993.1 1554.0,1996.9 1556.9,2000.6 1559.7,2004.1 1562.6,2007.5 1565.5,2010.7 1568.4,2013.7 1571.3,2016.6 1574.2,2019.3 1577.1,2022.0 1580.0,2024.4 1582.9,2026.8 1585.8,2029.0 1588.7,2031.0 1591.6,2033.0 1594.5,2034.8 1597.4,2036.6 1600.3,2038.2 1603.2,2039.7 1606.0,2041.2 1608.9,2042.5 1611.8,2043.7 1614.7,2044.9 1617.6,2046.0 1620.5,2047.1 1623.4,2048.0 1626.3,2048.9" fill="none" stroke="#C6C6C6" stroke-width="4.2" stroke-linecap="round" stroke-linejoin="round"/>
<rect x="1178.50" y="1692.20" width="466.80" height="417.80" fill="none" stroke="#000" stroke-width="2"/>
<line x1="1178.50" y1="2094.60" x2="1170.20" y2="2094.60" stroke="#000" stroke-width="2"/>
<text x="0.00" y="0.00" font-size="23.0" text-anchor="end" font-weight="normal" fill="#111" stroke="#111" stroke-width="0.14" transform="translate(1163.10 2099.70) scale(0.945 1)">0.0</text>
<line x1="1178.50" y1="2030.00" x2="1170.20" y2="2030.00" stroke="#000" stroke-width="2"/>
<text x="0.00" y="0.00" font-size="23.0" text-anchor="end" font-weight="normal" fill="#111" stroke="#111" stroke-width="0.14" transform="translate(1163.10 2035.10) scale(0.945 1)">0.2</text>
<line x1="1178.50" y1="1965.40" x2="1170.20" y2="1965.40" stroke="#000" stroke-width="2"/>
<text x="0.00" y="0.00" font-size="23.0" text-anchor="end" font-weight="normal" fill="#111" stroke="#111" stroke-width="0.14" transform="translate(1163.10 1970.50) scale(0.945 1)">0.4</text>
<line x1="1178.50" y1="1900.80" x2="1170.20" y2="1900.80" stroke="#000" stroke-width="2"/>
<text x="0.00" y="0.00" font-size="23.0" text-anchor="end" font-weight="normal" fill="#111" stroke="#111" stroke-width="0.14" transform="translate(1163.10 1905.90) scale(0.945 1)">0.6</text>
<line x1="1178.50" y1="1836.20" x2="1170.20" y2="1836.20" stroke="#000" stroke-width="2"/>
<text x="0.00" y="0.00" font-size="23.0" text-anchor="end" font-weight="normal" fill="#111" stroke="#111" stroke-width="0.14" transform="translate(1163.10 1841.30) scale(0.945 1)">0.8</text>
<line x1="1178.50" y1="1771.60" x2="1170.20" y2="1771.60" stroke="#000" stroke-width="2"/>
<text x="0.00" y="0.00" font-size="23.0" text-anchor="end" font-weight="normal" fill="#111" stroke="#111" stroke-width="0.14" transform="translate(1163.10 1776.70) scale(0.945 1)">1.0</text>
<line x1="1178.50" y1="1707.00" x2="1170.20" y2="1707.00" stroke="#000" stroke-width="2"/>
<text x="0.00" y="0.00" font-size="23.0" text-anchor="end" font-weight="normal" fill="#111" stroke="#111" stroke-width="0.14" transform="translate(1163.10 1712.10) scale(0.945 1)">1.2</text>
<line x1="1195.60" y1="2110.00" x2="1195.60" y2="2118.60" stroke="#000" stroke-width="2"/>
<text x="1198.20" y="2139.20" font-size="21.6" text-anchor="middle" font-weight="normal" fill="#111" stroke="#111" stroke-width="0.13">0</text>
<line x1="1353.50" y1="2110.00" x2="1353.50" y2="2118.60" stroke="#000" stroke-width="2"/>
<text x="1361.70" y="2139.20" font-size="21.6" text-anchor="middle" font-weight="normal" fill="#111" stroke="#111" stroke-width="0.13">0.01</text>
<line x1="1511.50" y1="2110.00" x2="1511.50" y2="2118.60" stroke="#000" stroke-width="2"/>
<text x="1514.20" y="2139.20" font-size="21.6" text-anchor="middle" font-weight="normal" fill="#111" stroke="#111" stroke-width="0.13">1</text>
<polygon points="1209.5,2114.8 1220.3,2105.6 1229.4,2105.6 1218.6,2114.8" fill="#fff"/>
<line x1="1209.50" y1="2114.80" x2="1220.30" y2="2105.60" stroke="#000" stroke-width="2.0"/>
<line x1="1218.60" y1="2114.80" x2="1229.40" y2="2105.60" stroke="#000" stroke-width="2.0"/>
<text x="1386.40" y="2187.90" font-size="28.0" text-anchor="middle" font-weight="normal" fill="#111" stroke="#111" stroke-width="0.17">dasatinib [µM]</text>
<text x="1382.70" y="1672.10" font-size="36.7" text-anchor="middle" font-weight="bold" fill="#000" stroke="#000" stroke-width="0.22">Gak</text>
<rect x="1419.70" y="1692.20" width="225.60" height="97.70" fill="#fff" stroke="#000" stroke-width="2"/>
<line x1="1426.80" y1="1717.00" x2="1441.20" y2="1717.00" stroke="#DC2A1B" stroke-width="4.2" stroke-linecap="round"/>
<text x="1447.50" y="1723.70" font-size="20" text-anchor="start" font-weight="normal" fill="#111" stroke="#111" stroke-width="0.12">Donor1:</text>
<text x="1530.80" y="1723.70" font-size="20" text-anchor="start" font-weight="normal" fill="#111" stroke="#111" stroke-width="0.12">pIC</text>
<text x="1562.70" y="1730.60" font-size="11.8" text-anchor="start" font-weight="normal" fill="#111" stroke="#111" stroke-width="0.07">50</text>
<text x="1581.20" y="1723.70" font-size="20" text-anchor="start" font-weight="normal" fill="#111" stroke="#111" stroke-width="0.12">=</text>
<text x="1604.70" y="1723.70" font-size="20" text-anchor="start" font-weight="normal" fill="#111" stroke="#111" stroke-width="0.12">5.9</text>
<line x1="1426.80" y1="1741.35" x2="1441.20" y2="1741.35" stroke="#000" stroke-width="4.2" stroke-linecap="round"/>
<text x="1447.50" y="1748.05" font-size="20" text-anchor="start" font-weight="normal" fill="#111" stroke="#111" stroke-width="0.12">Donor2:</text>
<text x="1530.80" y="1748.05" font-size="20" text-anchor="start" font-weight="normal" fill="#111" stroke="#111" stroke-width="0.12">pIC</text>
<text x="1562.70" y="1754.95" font-size="11.8" text-anchor="start" font-weight="normal" fill="#111" stroke="#111" stroke-width="0.07">50</text>
<text x="1581.20" y="1748.05" font-size="20" text-anchor="start" font-weight="normal" fill="#111" stroke="#111" stroke-width="0.12">=</text>
<text x="1604.70" y="1748.05" font-size="20" text-anchor="start" font-weight="normal" fill="#111" stroke="#111" stroke-width="0.12">6.1</text>
<line x1="1426.80" y1="1765.70" x2="1441.20" y2="1765.70" stroke="#C6C6C6" stroke-width="4.2" stroke-linecap="round"/>
<text x="1447.50" y="1772.40" font-size="20" text-anchor="start" font-weight="normal" fill="#111" stroke="#111" stroke-width="0.12">Donor3:</text>
<text x="1530.80" y="1772.40" font-size="20" text-anchor="start" font-weight="normal" fill="#111" stroke="#111" stroke-width="0.12">pIC</text>
<text x="1562.70" y="1779.30" font-size="11.8" text-anchor="start" font-weight="normal" fill="#111" stroke="#111" stroke-width="0.07">50</text>
<text x="1581.20" y="1772.40" font-size="20" text-anchor="start" font-weight="normal" fill="#111" stroke="#111" stroke-width="0.12">=</text>
<text x="1604.70" y="1772.40" font-size="20" text-anchor="start" font-weight="normal" fill="#111" stroke="#111" stroke-width="0.12">6.1</text>
<text x="0.00" y="0.00" font-size="29.7" text-anchor="middle" font-weight="normal" fill="#111" stroke="#111" stroke-width="0.18" transform="translate(20.30 1913.50) rotate(-90) scale(0.944 1)">Residual binding</text>
</g>
</svg>
</body></html>
